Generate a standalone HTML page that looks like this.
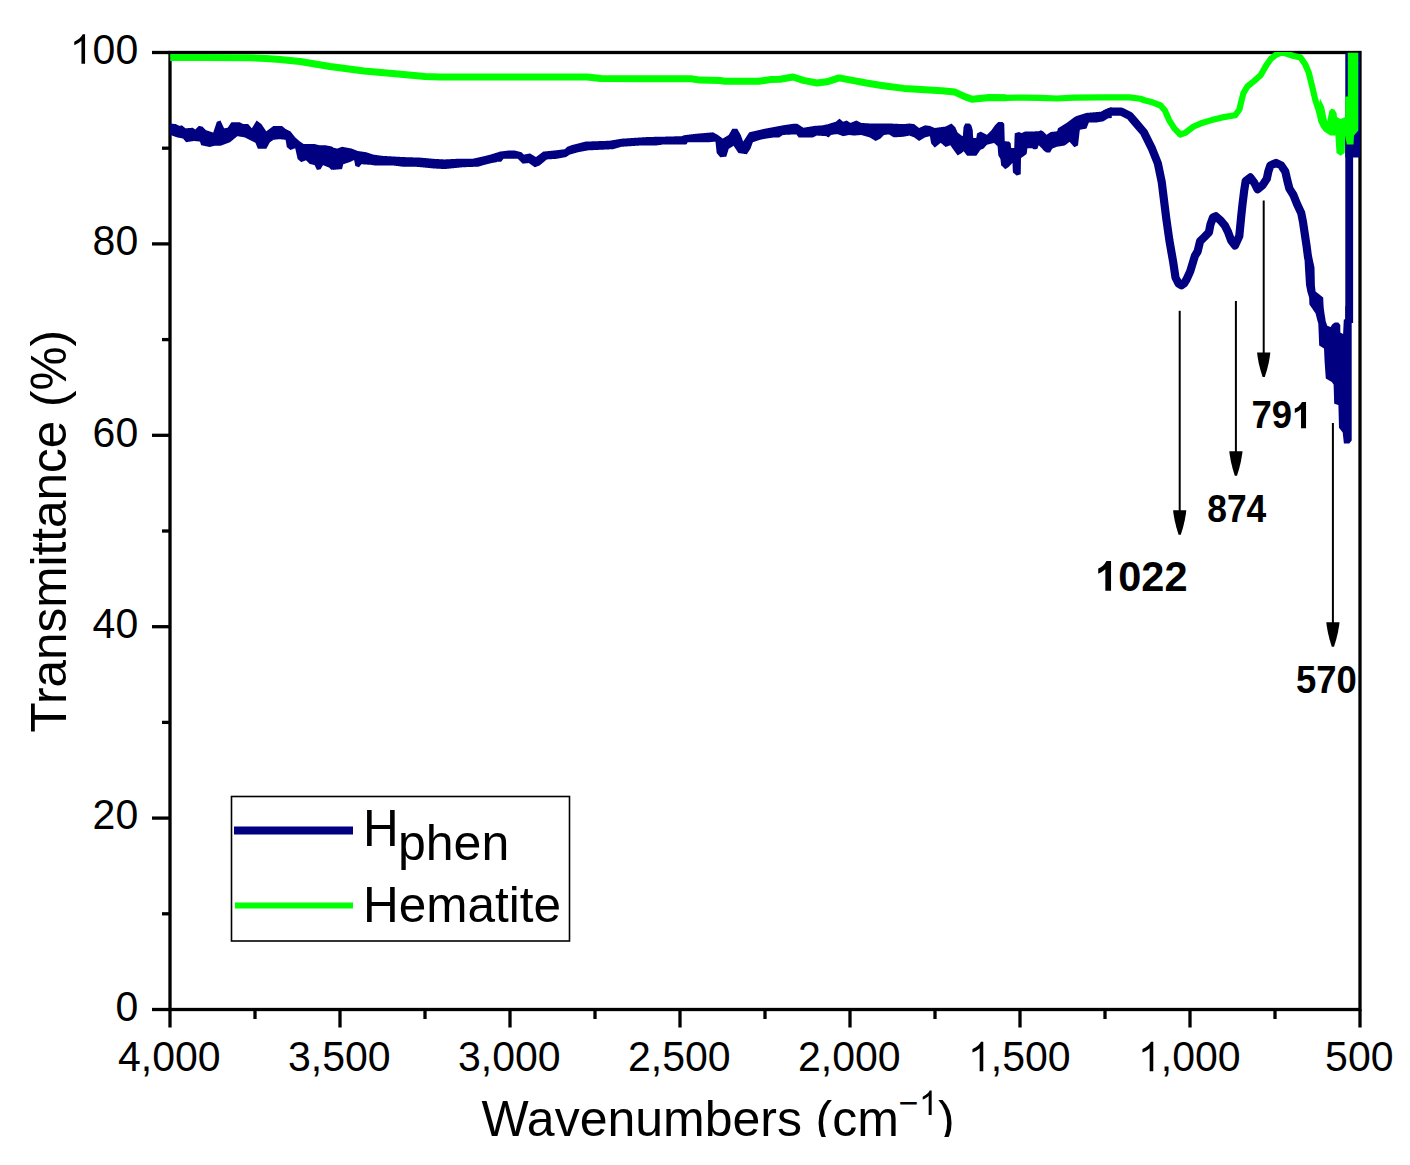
<!DOCTYPE html>
<html><head><meta charset="utf-8"><style>
html,body{margin:0;padding:0;background:#fff;}
body{width:1410px;height:1165px;overflow:hidden;}
svg{display:block;}
text{font-family:"Liberation Sans",sans-serif;fill:#000;}
</style></head><body>
<svg width="1410" height="1165" viewBox="0 0 1410 1165">
<rect x="0" y="0" width="1410" height="1165" fill="#fff"/>

<g stroke="#000" stroke-width="3.3" fill="none">
<rect x="170" y="52.5" width="1190" height="957.0"/>
<line x1="152" y1="1009.5" x2="170" y2="1009.5"/><line x1="162" y1="913.8" x2="170" y2="913.8"/><line x1="152" y1="818.1" x2="170" y2="818.1"/><line x1="162" y1="722.4" x2="170" y2="722.4"/><line x1="152" y1="626.7" x2="170" y2="626.7"/><line x1="162" y1="531.0" x2="170" y2="531.0"/><line x1="152" y1="435.3" x2="170" y2="435.3"/><line x1="162" y1="339.6" x2="170" y2="339.6"/><line x1="152" y1="243.9" x2="170" y2="243.9"/><line x1="162" y1="148.2" x2="170" y2="148.2"/><line x1="152" y1="52.5" x2="170" y2="52.5"/><line x1="1360.0" y1="1009.5" x2="1360.0" y2="1027.5"/><line x1="1275.0" y1="1009.5" x2="1275.0" y2="1019"/><line x1="1190.0" y1="1009.5" x2="1190.0" y2="1027.5"/><line x1="1105.0" y1="1009.5" x2="1105.0" y2="1019"/><line x1="1020.0" y1="1009.5" x2="1020.0" y2="1027.5"/><line x1="935.0" y1="1009.5" x2="935.0" y2="1019"/><line x1="850.0" y1="1009.5" x2="850.0" y2="1027.5"/><line x1="765.0" y1="1009.5" x2="765.0" y2="1019"/><line x1="680.0" y1="1009.5" x2="680.0" y2="1027.5"/><line x1="595.0" y1="1009.5" x2="595.0" y2="1019"/><line x1="510.0" y1="1009.5" x2="510.0" y2="1027.5"/><line x1="425.0" y1="1009.5" x2="425.0" y2="1019"/><line x1="340.0" y1="1009.5" x2="340.0" y2="1027.5"/><line x1="255.0" y1="1009.5" x2="255.0" y2="1019"/><line x1="170.0" y1="1009.5" x2="170.0" y2="1027.5"/>
</g>
<defs><clipPath id="pclip"><rect x="170" y="51.9" width="1190.2" height="957"/></clipPath></defs>
<g clip-path="url(#pclip)">
<polygon points="170.00,123.51 170.25,123.51 170.50,123.52 170.75,123.55 171.00,123.57 171.25,123.60 171.50,123.63 171.75,123.66 172.00,123.69 172.25,123.71 172.50,123.74 172.75,123.77 173.00,123.80 173.25,123.82 173.50,123.85 173.75,123.88 174.00,123.91 174.25,123.94 174.50,123.96 174.75,123.99 175.00,124.02 175.25,124.05 175.50,124.07 175.75,124.10 176.00,124.19 176.25,124.31 176.50,124.44 176.75,124.56 177.00,124.69 177.25,124.81 177.50,124.94 177.75,125.06 178.00,125.19 178.25,125.31 178.50,125.44 178.75,125.56 179.00,125.69 179.25,125.81 179.50,125.91 179.75,125.85 180.00,125.79 180.25,125.73 180.50,125.66 180.75,125.60 181.00,125.54 181.25,125.48 181.50,125.41 181.75,125.35 182.00,125.42 182.25,125.63 182.50,125.84 182.75,126.04 183.00,126.25 183.25,126.46 183.50,126.67 183.75,126.88 184.00,127.09 184.25,127.29 184.50,127.50 184.75,127.71 185.00,127.92 185.25,128.13 185.50,128.33 185.75,128.31 186.00,128.29 186.25,128.27 186.50,128.25 186.75,128.23 187.00,128.21 187.25,128.19 187.50,128.17 187.75,128.15 188.00,128.13 188.25,128.10 188.50,128.08 188.75,128.06 189.00,128.04 189.25,128.02 189.50,128.00 189.75,127.98 190.00,127.96 190.25,127.94 190.50,127.92 190.75,127.90 191.00,127.88 191.25,127.85 191.50,127.83 191.75,127.81 192.00,127.79 192.25,127.77 192.50,127.75 192.75,127.75 193.00,127.93 193.25,128.12 193.50,128.31 193.75,128.50 194.00,128.68 194.25,128.87 194.50,129.06 194.75,129.25 195.00,129.43 195.25,129.43 195.50,129.18 195.75,128.93 196.00,128.68 196.25,128.43 196.50,128.18 196.75,127.93 197.00,127.68 197.25,127.43 197.50,127.18 197.75,126.93 198.00,126.68 198.25,126.43 198.50,126.18 198.75,125.93 199.00,125.96 199.25,126.00 199.50,126.05 199.75,126.09 200.00,126.13 200.25,126.17 200.50,126.21 200.75,126.25 201.00,126.30 201.25,126.34 201.50,126.38 201.75,126.42 202.00,126.46 202.25,126.50 202.50,126.65 202.75,126.90 203.00,127.15 203.25,127.40 203.50,127.65 203.75,127.90 204.00,128.15 204.25,128.40 204.50,128.65 204.75,128.90 205.00,129.15 205.25,129.40 205.50,129.65 205.75,129.90 206.00,130.14 206.25,130.23 206.50,130.31 206.75,130.39 207.00,130.48 207.25,130.56 207.50,130.64 207.75,130.73 208.00,130.81 208.25,130.89 208.50,130.98 208.75,131.06 209.00,131.14 209.25,131.23 209.50,131.31 209.75,131.39 210.00,131.48 210.25,131.56 210.50,131.64 210.75,131.73 211.00,131.81 211.25,131.89 211.50,131.98 211.75,132.06 212.00,132.14 212.25,132.23 212.50,132.31 212.75,132.39 213.00,132.48 213.25,132.49 213.50,131.74 213.75,130.99 214.00,130.24 214.25,129.49 214.50,128.74 214.75,127.99 215.00,127.24 215.25,126.49 215.50,125.74 215.75,124.99 216.00,124.24 216.25,123.49 216.50,122.74 216.75,121.99 217.00,121.65 217.25,121.57 217.50,121.48 217.75,121.40 218.00,121.32 218.25,121.23 218.50,121.15 218.75,121.07 219.00,120.98 219.25,120.90 219.50,120.82 219.75,120.73 220.00,120.65 220.25,120.57 220.50,120.58 220.75,121.12 221.00,121.66 221.25,122.20 221.50,122.75 221.75,123.29 222.00,123.83 222.25,124.37 222.50,124.91 222.75,125.45 223.00,126.00 223.25,126.54 223.50,127.08 223.75,127.62 224.00,128.16 224.25,128.31 224.50,128.26 224.75,128.22 225.00,128.18 225.25,128.14 225.50,128.10 225.75,128.06 226.00,128.01 226.25,127.97 226.50,127.93 226.75,127.89 227.00,127.85 227.25,127.81 227.50,127.76 227.75,127.65 228.00,127.27 228.25,126.90 228.50,126.52 228.75,126.15 229.00,125.77 229.25,125.40 229.50,125.02 229.75,124.65 230.00,124.27 230.25,123.90 230.50,123.52 230.75,123.15 231.00,122.77 231.25,122.40 231.50,122.31 231.75,122.31 232.00,122.31 232.25,122.31 232.50,122.31 232.75,122.31 233.00,122.31 233.25,122.31 233.50,122.31 233.75,122.31 234.00,122.31 234.25,122.31 234.50,122.31 234.75,122.31 235.00,122.31 235.25,122.31 235.50,122.31 235.75,122.31 236.00,122.31 236.25,122.31 236.50,122.31 236.75,122.31 237.00,122.31 237.25,122.31 237.50,122.31 237.75,122.31 238.00,122.31 238.25,122.31 238.50,122.31 238.75,122.31 239.00,122.31 239.25,122.31 239.50,122.31 239.75,122.31 240.00,122.43 240.25,122.55 240.50,122.68 240.75,122.80 241.00,122.93 241.25,123.05 241.50,123.18 241.75,123.30 242.00,123.43 242.25,123.55 242.50,123.68 242.75,123.80 243.00,123.93 243.25,124.05 243.50,124.11 243.75,124.11 244.00,124.11 244.25,124.11 244.50,124.11 244.75,124.11 245.00,124.11 245.25,124.11 245.50,124.11 245.75,124.11 246.00,124.11 246.25,124.11 246.50,124.11 246.75,124.11 247.00,124.11 247.25,124.11 247.50,124.11 247.75,124.11 248.00,124.11 248.25,124.18 248.50,124.47 248.75,124.76 249.00,125.06 249.25,125.35 249.50,125.64 249.75,125.93 250.00,126.22 250.25,126.51 250.50,126.81 250.75,127.10 251.00,127.39 251.25,127.68 251.50,127.97 251.75,128.26 252.00,128.02 252.25,127.62 252.50,127.21 252.75,126.81 253.00,126.40 253.25,125.99 253.50,125.59 253.75,125.18 254.00,124.77 254.25,124.37 254.50,123.96 254.75,123.56 255.00,123.15 255.25,122.74 255.50,122.34 255.75,121.93 256.00,121.52 256.25,121.12 256.50,120.71 256.75,120.58 257.00,120.77 257.25,120.96 257.50,121.15 257.75,121.33 258.00,121.52 258.25,121.71 258.50,121.90 258.75,122.08 259.00,122.27 259.25,122.46 259.50,122.65 259.75,122.83 260.00,123.02 260.25,123.21 260.50,123.40 260.75,123.58 261.00,123.77 261.25,123.96 261.50,124.18 261.75,124.56 262.00,124.93 262.25,125.31 262.50,125.68 262.75,126.06 263.00,126.43 263.25,126.81 263.50,127.18 263.75,127.56 264.00,127.93 264.25,128.31 264.50,128.68 264.75,129.06 265.00,129.43 265.25,129.81 265.50,130.18 265.75,130.56 266.00,130.93 266.25,131.31 266.50,131.18 266.75,130.99 267.00,130.81 267.25,130.62 267.50,130.43 267.75,130.24 268.00,130.06 268.25,129.87 268.50,129.68 268.75,129.49 269.00,129.31 269.25,129.12 269.50,128.93 269.75,128.74 270.00,128.56 270.25,128.37 270.50,128.18 270.75,127.99 271.00,127.81 271.25,127.62 271.50,127.43 271.75,127.24 272.00,127.06 272.25,126.87 272.50,126.68 272.75,126.49 273.00,126.31 273.25,126.12 273.50,125.93 273.75,125.92 274.00,125.92 274.25,125.92 274.50,125.92 274.75,125.92 275.00,125.92 275.25,125.92 275.50,125.92 275.75,125.92 276.00,125.92 276.25,125.92 276.50,125.92 276.75,125.92 277.00,125.92 277.25,125.92 277.50,125.92 277.75,125.92 278.00,125.92 278.25,125.92 278.50,125.92 278.75,125.92 279.00,125.92 279.25,125.92 279.50,125.92 279.75,125.92 280.00,125.92 280.25,125.92 280.50,125.92 280.75,125.92 281.00,125.92 281.25,125.92 281.50,125.92 281.75,125.92 282.00,125.96 282.25,126.17 282.50,126.38 282.75,126.59 283.00,126.80 283.25,127.00 283.50,127.21 283.75,127.42 284.00,127.63 284.25,127.84 284.50,128.05 284.75,128.25 285.00,128.46 285.25,128.67 285.50,128.88 285.75,129.03 286.00,129.15 286.25,129.28 286.50,129.40 286.75,129.53 287.00,129.65 287.25,129.78 287.50,129.90 287.75,130.03 288.00,130.15 288.25,130.28 288.50,130.40 288.75,130.53 289.00,130.65 289.25,130.78 289.50,130.90 289.75,131.03 290.00,131.15 290.25,131.28 290.50,131.48 290.75,131.80 291.00,132.11 291.25,132.42 291.50,132.73 291.75,133.05 292.00,133.36 292.25,133.67 292.50,133.98 292.75,134.30 293.00,134.61 293.25,134.92 293.50,135.23 293.75,135.55 294.00,135.86 294.25,136.17 294.50,136.48 294.75,136.80 295.00,137.11 295.25,137.41 295.50,137.63 295.75,137.84 296.00,138.06 296.25,138.28 296.50,138.50 296.75,138.72 297.00,138.94 297.25,139.16 297.50,139.38 297.75,139.59 298.00,139.81 298.25,140.03 298.50,140.25 298.75,140.47 299.00,140.69 299.25,140.91 299.50,141.13 299.75,141.34 300.00,141.56 300.25,141.74 300.50,141.90 300.75,142.07 301.00,142.24 301.25,142.40 301.50,142.57 301.75,142.74 302.00,142.90 302.25,143.07 302.50,143.24 302.75,143.40 303.00,143.57 303.25,143.74 303.50,143.90 303.75,144.01 304.00,144.01 304.25,144.01 304.50,144.01 304.75,144.01 305.00,144.01 305.25,144.01 305.50,144.01 305.75,144.01 306.00,144.01 306.25,144.01 306.50,144.01 306.75,144.01 307.00,144.01 307.25,144.01 307.50,144.01 307.75,144.01 308.00,144.01 308.25,144.01 308.50,144.01 308.75,144.01 309.00,144.01 309.25,144.01 309.50,144.01 309.75,144.01 310.00,144.01 310.25,144.01 310.50,144.01 310.75,144.01 311.00,144.01 311.25,144.01 311.50,144.01 311.75,144.01 312.00,144.01 312.25,144.01 312.50,144.01 312.75,144.01 313.00,144.01 313.25,144.01 313.50,144.01 313.75,144.01 314.00,144.01 314.25,144.01 314.50,144.01 314.75,144.07 315.00,144.13 315.25,144.19 315.50,144.26 315.75,144.32 316.00,144.38 316.25,144.44 316.50,144.51 316.75,144.57 317.00,144.63 317.25,144.69 317.50,144.76 317.75,144.82 318.00,144.88 318.25,144.94 318.50,145.01 318.75,145.07 319.00,145.13 319.25,145.19 319.50,145.21 319.75,145.21 320.00,145.21 320.25,145.21 320.50,145.21 320.75,145.21 321.00,145.21 321.25,145.21 321.50,145.21 321.75,145.21 322.00,145.21 322.25,145.21 322.50,145.21 322.75,145.21 323.00,145.21 323.25,145.21 323.50,145.21 323.75,145.21 324.00,145.21 324.25,145.21 324.50,145.21 324.75,145.21 325.00,145.21 325.25,145.21 325.50,145.24 325.75,145.29 326.00,145.34 326.25,145.39 326.50,145.44 326.75,145.49 327.00,145.54 327.25,145.59 327.50,145.64 327.75,145.69 328.00,145.74 328.25,145.79 328.50,145.84 328.75,145.89 329.00,145.94 329.25,145.99 329.50,146.04 329.75,146.09 330.00,146.14 330.25,146.19 330.50,146.24 330.75,146.29 331.00,146.34 331.25,146.39 331.50,146.48 331.75,146.60 332.00,146.73 332.25,146.85 332.50,146.98 332.75,147.10 333.00,147.52 333.25,147.59 333.50,147.65 333.75,147.71 334.00,147.77 334.25,147.84 334.50,147.90 334.75,147.96 335.00,148.02 335.25,148.09 335.50,148.15 335.75,148.21 336.00,148.27 336.25,148.34 336.50,148.40 336.75,148.46 337.00,148.52 337.25,148.58 337.50,148.48 337.75,148.39 338.00,148.29 338.25,148.20 338.50,148.11 338.75,148.01 339.00,147.92 339.25,147.83 339.50,147.73 339.75,147.64 340.00,147.54 340.25,147.45 340.50,147.36 340.75,147.26 341.00,147.17 341.25,147.08 341.50,146.98 341.75,146.89 342.00,146.79 342.25,146.81 342.50,146.86 342.75,146.90 343.00,146.95 343.25,147.00 343.50,147.04 343.75,147.09 344.00,147.14 344.25,147.18 344.50,147.23 344.75,147.28 345.00,147.33 345.25,147.37 345.50,147.42 345.75,147.47 346.00,147.51 346.25,147.56 346.50,147.61 346.75,147.65 347.00,147.70 347.25,147.75 347.50,147.79 347.75,147.84 348.00,147.89 348.25,147.93 348.50,147.98 348.75,148.03 349.00,148.08 349.25,148.12 349.50,148.17 349.75,148.22 350.00,148.26 350.25,148.31 350.50,148.36 350.75,148.40 351.00,148.45 351.25,148.50 351.50,148.54 351.75,148.60 352.00,148.70 352.25,148.80 352.50,148.90 352.75,149.00 353.00,149.10 353.25,149.20 353.50,149.30 353.75,149.40 354.00,149.50 354.25,149.60 354.50,149.70 354.75,149.80 355.00,149.90 355.25,150.00 355.50,150.10 355.75,150.20 356.00,150.30 356.25,150.40 356.50,150.50 356.75,150.60 357.00,150.70 357.25,150.80 357.50,150.90 357.75,151.00 358.00,151.03 358.25,151.07 358.50,151.10 358.75,151.14 359.00,151.17 359.25,151.21 359.50,151.25 359.75,151.28 360.00,151.32 360.25,151.35 360.50,151.39 360.75,151.42 361.00,151.46 361.25,151.50 361.50,151.53 361.75,151.57 362.00,151.60 362.25,151.64 362.50,151.67 362.75,151.71 363.00,151.75 363.25,151.78 363.50,151.82 363.75,151.85 364.00,151.89 364.25,151.92 364.50,151.96 364.75,152.00 365.00,152.03 365.25,152.07 365.50,152.10 365.75,152.14 366.00,152.17 366.25,152.23 366.50,152.31 366.75,152.39 367.00,152.48 367.25,152.56 367.50,152.64 367.75,152.73 368.00,152.81 368.25,152.89 368.50,152.98 368.75,153.06 369.00,153.14 369.25,153.23 369.50,153.31 369.75,153.39 370.00,153.48 370.25,153.56 370.50,153.64 370.75,153.73 371.00,153.81 371.25,153.89 371.50,153.98 371.75,154.06 372.00,154.14 372.25,154.23 372.50,154.31 372.75,154.39 373.00,154.48 373.25,154.56 373.50,154.62 373.75,154.66 374.00,154.70 374.25,154.73 374.50,154.77 374.75,154.80 375.00,154.84 375.25,154.87 375.50,154.91 375.75,154.95 376.00,154.98 376.25,155.02 376.50,155.05 376.75,155.09 377.00,155.12 377.25,155.16 377.50,155.20 377.75,155.23 378.00,155.27 378.25,155.30 378.50,155.34 378.75,155.37 379.00,155.41 379.25,155.45 379.50,155.48 379.75,155.52 380.00,155.55 380.25,155.59 380.50,155.62 380.75,155.66 381.00,155.70 381.25,155.73 381.50,155.77 381.75,155.80 382.00,155.83 382.25,155.84 382.50,155.85 382.75,155.87 383.00,155.88 383.25,155.90 383.50,155.91 383.75,155.93 384.00,155.94 384.25,155.96 384.50,155.97 384.75,155.99 385.00,156.00 385.25,156.02 385.50,156.03 385.75,156.05 386.00,156.06 386.25,156.08 386.50,156.09 386.75,156.10 387.00,156.12 387.25,156.13 387.50,156.15 387.75,156.16 388.00,156.18 388.25,156.19 388.50,156.21 388.75,156.22 389.00,156.24 389.25,156.25 389.50,156.27 389.75,156.28 390.00,156.30 390.25,156.31 390.50,156.33 390.75,156.34 391.00,156.35 391.25,156.37 391.50,156.38 391.75,156.40 392.00,156.41 392.25,156.43 392.50,156.44 392.75,156.46 393.00,156.47 393.25,156.49 393.50,156.50 393.75,156.52 394.00,156.53 394.25,156.55 394.50,156.56 394.75,156.58 395.00,156.59 395.25,156.60 395.50,156.62 395.75,156.63 396.00,156.65 396.25,156.66 396.50,156.68 396.75,156.69 397.00,156.71 397.25,156.72 397.50,156.74 397.75,156.75 398.00,156.77 398.25,156.78 398.50,156.80 398.75,156.81 399.00,156.83 399.25,156.84 399.50,156.85 399.75,156.87 400.00,156.88 400.25,156.90 400.50,156.91 400.75,156.93 401.00,156.94 401.25,156.96 401.50,156.97 401.75,156.99 402.00,157.00 402.25,157.02 402.50,157.03 402.75,157.04 403.00,157.04 403.25,157.05 403.50,157.06 403.75,157.07 404.00,157.08 404.25,157.09 404.50,157.09 404.75,157.10 405.00,157.11 405.25,157.12 405.50,157.13 405.75,157.14 406.00,157.14 406.25,157.15 406.50,157.16 406.75,157.17 407.00,157.18 407.25,157.19 407.50,157.19 407.75,157.20 408.00,157.21 408.25,157.22 408.50,157.23 408.75,157.24 409.00,157.24 409.25,157.25 409.50,157.26 409.75,157.27 410.00,157.28 410.25,157.29 410.50,157.29 410.75,157.30 411.00,157.31 411.25,157.32 411.50,157.33 411.75,157.34 412.00,157.34 412.25,157.35 412.50,157.36 412.75,157.37 413.00,157.38 413.25,157.39 413.50,157.39 413.75,157.40 414.00,157.41 414.25,157.42 414.50,157.43 414.75,157.44 415.00,157.44 415.25,157.45 415.50,157.46 415.75,157.47 416.00,157.48 416.25,157.49 416.50,157.49 416.75,157.50 417.00,157.51 417.25,157.52 417.50,157.53 417.75,157.54 418.00,157.54 418.25,157.55 418.50,157.56 418.75,157.57 419.00,157.58 419.25,157.59 419.50,157.59 419.75,157.60 420.00,157.61 420.25,157.62 420.50,157.63 420.75,157.65 421.00,157.68 421.25,157.70 421.50,157.72 421.75,157.75 422.00,157.77 422.25,157.79 422.50,157.81 422.75,157.84 423.00,157.86 423.25,157.88 423.50,157.90 423.75,157.93 424.00,157.95 424.25,157.97 424.50,158.00 424.75,158.02 425.00,158.04 425.25,158.06 425.50,158.09 425.75,158.11 426.00,158.13 426.25,158.15 426.50,158.18 426.75,158.20 427.00,158.22 427.25,158.25 427.50,158.27 427.75,158.29 428.00,158.31 428.25,158.34 428.50,158.36 428.75,158.38 429.00,158.40 429.25,158.43 429.50,158.45 429.75,158.47 430.00,158.50 430.25,158.52 430.50,158.54 430.75,158.56 431.00,158.59 431.25,158.61 431.50,158.63 431.75,158.65 432.00,158.68 432.25,158.70 432.50,158.72 432.75,158.75 433.00,158.77 433.25,158.79 433.50,158.81 433.75,158.83 434.00,158.85 434.25,158.86 434.50,158.88 434.75,158.89 435.00,158.90 435.25,158.92 435.50,158.93 435.75,158.94 436.00,158.96 436.25,158.97 436.50,158.99 436.75,159.00 437.00,159.01 437.25,159.03 437.50,159.04 437.75,159.06 438.00,159.07 438.25,159.08 438.50,159.10 438.75,159.11 439.00,159.13 439.25,159.14 439.50,159.15 439.75,159.17 440.00,159.18 440.25,159.19 440.50,159.21 440.75,159.22 441.00,159.24 441.25,159.25 441.50,159.26 441.75,159.28 442.00,159.29 442.25,159.31 442.50,159.32 442.75,159.33 443.00,159.35 443.25,159.36 443.50,159.38 443.75,159.39 444.00,159.40 444.25,159.42 444.50,159.43 444.75,159.42 445.00,159.41 445.25,159.40 445.50,159.39 445.75,159.37 446.00,159.36 446.25,159.35 446.50,159.34 446.75,159.32 447.00,159.31 447.25,159.30 447.50,159.29 447.75,159.27 448.00,159.26 448.25,159.25 448.50,159.24 448.75,159.22 449.00,159.21 449.25,159.20 449.50,159.19 449.75,159.17 450.00,159.16 450.25,159.15 450.50,159.14 450.75,159.12 451.00,159.11 451.25,159.10 451.50,159.09 451.75,159.07 452.00,159.06 452.25,159.05 452.50,159.04 452.75,159.02 453.00,159.01 453.25,159.00 453.50,158.99 453.75,158.97 454.00,158.96 454.25,158.95 454.50,158.94 454.75,158.92 455.00,158.91 455.25,158.90 455.50,158.89 455.75,158.87 456.00,158.86 456.25,158.85 456.50,158.84 456.75,158.83 457.00,158.83 457.25,158.83 457.50,158.83 457.75,158.83 458.00,158.83 458.25,158.83 458.50,158.83 458.75,158.83 459.00,158.83 459.25,158.83 459.50,158.83 459.75,158.83 460.00,158.83 460.25,158.83 460.50,158.83 460.75,158.83 461.00,158.83 461.25,158.83 461.50,158.83 461.75,158.83 462.00,158.83 462.25,158.83 462.50,158.83 462.75,158.83 463.00,158.83 463.25,158.83 463.50,158.83 463.75,158.83 464.00,158.83 464.25,158.83 464.50,158.83 464.75,158.83 465.00,158.83 465.25,158.83 465.50,158.83 465.75,158.83 466.00,158.83 466.25,158.83 466.50,158.83 466.75,158.83 467.00,158.83 467.25,158.83 467.50,158.83 467.75,158.83 468.00,158.83 468.25,158.83 468.50,158.83 468.75,158.83 469.00,158.83 469.25,158.83 469.50,158.83 469.75,158.83 470.00,158.83 470.25,158.83 470.50,158.83 470.75,158.83 471.00,158.83 471.25,158.83 471.50,158.83 471.75,158.83 472.00,158.83 472.25,158.83 472.50,158.78 472.75,158.72 473.00,158.67 473.25,158.61 473.50,158.56 473.75,158.50 474.00,158.45 474.25,158.39 474.50,158.34 474.75,158.28 475.00,158.22 475.25,158.17 475.50,158.11 475.75,158.06 476.00,158.00 476.25,157.95 476.50,157.89 476.75,157.84 477.00,157.78 477.25,157.72 477.50,157.67 477.75,157.61 478.00,157.56 478.25,157.50 478.50,157.45 478.75,157.39 479.00,157.34 479.25,157.28 479.50,157.22 479.75,157.17 480.00,157.11 480.25,157.06 480.50,157.00 480.75,156.95 481.00,156.89 481.25,156.84 481.50,156.78 481.75,156.72 482.00,156.67 482.25,156.61 482.50,156.56 482.75,156.50 483.00,156.45 483.25,156.39 483.50,156.32 483.75,156.26 484.00,156.20 484.25,156.14 484.50,156.07 484.75,156.01 485.00,155.95 485.25,155.89 485.50,155.82 485.75,155.76 486.00,155.70 486.25,155.64 486.50,155.57 486.75,155.51 487.00,155.45 487.25,155.39 487.50,155.32 487.75,155.26 488.00,155.20 488.25,155.14 488.50,155.07 488.75,155.01 489.00,154.95 489.25,154.89 489.50,154.82 489.75,154.76 490.00,154.70 490.25,154.64 490.50,154.57 490.75,154.49 491.00,154.41 491.25,154.33 491.50,154.25 491.75,154.18 492.00,154.10 492.25,154.02 492.50,153.94 492.75,153.86 493.00,153.78 493.25,153.71 493.50,153.63 493.75,153.55 494.00,153.47 494.25,153.39 494.50,153.32 494.75,153.24 495.00,153.16 495.25,153.08 495.50,153.00 495.75,152.93 496.00,152.85 496.25,152.77 496.50,152.69 496.75,152.61 497.00,152.65 497.25,152.56 497.50,152.47 497.75,152.37 498.00,152.28 498.25,152.19 498.50,152.09 498.75,152.00 499.00,151.90 499.25,151.81 499.50,151.72 499.75,151.62 500.00,151.57 500.25,151.54 500.50,151.51 500.75,151.48 501.00,151.45 501.25,151.42 501.50,151.39 501.75,151.36 502.00,151.32 502.25,151.29 502.50,151.26 502.75,151.23 503.00,151.20 503.25,151.17 503.50,151.14 503.75,151.11 504.00,151.07 504.25,151.04 504.50,151.01 504.75,150.98 505.00,150.95 505.25,150.92 505.50,150.89 505.75,150.86 506.00,150.82 506.25,150.79 506.50,150.76 506.75,150.73 507.00,150.70 507.25,150.67 507.50,150.64 507.75,150.61 508.00,150.57 508.25,150.54 508.50,150.51 508.75,150.48 509.00,150.45 509.25,150.42 509.50,150.39 509.75,150.39 510.00,150.39 510.25,150.39 510.50,150.39 510.75,150.39 511.00,150.39 511.25,150.39 511.50,150.39 511.75,150.39 512.00,150.39 512.25,150.39 512.50,150.39 512.75,150.39 513.00,150.39 513.25,150.39 513.50,150.39 513.75,150.39 514.00,150.39 514.25,150.39 514.50,150.44 514.75,150.51 515.00,150.57 515.25,150.63 515.50,150.69 515.75,150.76 516.00,150.82 516.25,150.88 516.50,150.94 516.75,151.01 517.00,151.07 517.25,151.13 517.50,151.19 517.75,151.26 518.00,151.32 518.25,151.38 518.50,151.44 518.75,151.51 519.00,151.57 519.25,151.63 519.50,151.69 519.75,151.76 520.00,151.82 520.25,151.88 520.50,151.94 520.75,152.01 521.00,152.07 521.25,152.13 521.50,152.19 521.75,152.42 522.00,152.67 522.25,152.92 522.50,153.17 522.75,153.42 523.00,153.67 523.25,153.92 523.50,154.17 523.75,154.42 524.00,154.60 524.25,154.55 524.50,154.50 524.75,154.45 525.00,154.40 525.25,154.35 525.50,154.30 525.75,154.25 526.00,154.20 526.25,154.15 526.50,154.10 526.75,154.05 527.00,154.00 527.25,153.95 527.50,153.90 527.75,153.85 528.00,153.80 528.25,153.75 528.50,153.70 528.75,153.65 529.00,153.60 529.25,153.55 529.50,153.50 529.75,153.45 530.00,153.43 530.25,153.58 530.50,153.73 530.75,153.88 531.00,154.03 531.25,154.18 531.50,154.33 531.75,154.48 532.00,154.63 532.25,154.78 532.50,154.93 532.75,155.08 533.00,155.23 533.25,155.38 533.50,155.53 533.75,155.68 534.00,155.83 534.25,155.98 534.50,156.13 534.75,156.28 535.00,156.43 535.25,156.58 535.50,156.73 535.75,156.88 536.00,157.02 536.25,156.83 536.50,156.64 536.75,156.45 537.00,156.27 537.25,156.08 537.50,155.89 537.75,155.70 538.00,155.52 538.25,155.33 538.50,155.14 538.75,154.95 539.00,154.77 539.25,154.58 539.50,154.39 539.75,154.20 540.00,154.02 540.25,153.83 540.50,153.64 540.75,153.45 541.00,153.27 541.25,153.08 541.50,152.89 541.75,152.70 542.00,152.52 542.25,152.33 542.50,152.14 542.75,151.95 543.00,151.77 543.25,151.59 543.50,151.57 543.75,151.54 544.00,151.52 544.25,151.49 544.50,151.47 544.75,151.44 545.00,151.42 545.25,151.39 545.50,151.37 545.75,151.34 546.00,151.32 546.25,151.29 546.50,151.27 546.75,151.24 547.00,151.22 547.25,151.19 547.50,151.17 547.75,151.14 548.00,151.12 548.25,151.09 548.50,151.07 548.75,151.04 549.00,151.02 549.25,150.99 549.50,150.97 549.75,150.94 550.00,150.92 550.25,150.89 550.50,150.87 550.75,150.84 551.00,150.82 551.25,150.79 551.50,150.77 551.75,150.74 552.00,150.72 552.25,150.69 552.50,150.67 552.75,150.64 553.00,150.62 553.25,150.59 553.50,150.57 553.75,150.54 554.00,150.52 554.25,150.49 554.50,150.47 554.75,150.44 555.00,150.42 555.25,150.39 555.50,150.36 555.75,150.33 556.00,150.30 556.25,150.27 556.50,150.24 556.75,150.21 557.00,150.18 557.25,150.14 557.50,150.11 557.75,150.08 558.00,150.05 558.25,150.02 558.50,149.99 558.75,149.96 559.00,149.93 559.25,149.89 559.50,149.86 559.75,149.83 560.00,149.80 560.25,149.77 560.50,149.74 560.75,149.71 561.00,149.68 561.25,149.64 561.50,149.61 561.75,149.58 562.00,149.55 562.25,149.52 562.50,149.49 562.75,149.46 563.00,149.43 563.25,149.39 563.50,149.36 563.75,149.33 564.00,149.30 564.25,149.27 564.50,149.24 564.75,149.21 565.00,149.12 565.25,148.87 565.50,148.62 565.75,148.37 566.00,148.12 566.25,147.87 566.50,147.62 566.75,147.37 567.00,147.12 567.25,146.87 567.50,146.71 567.75,146.62 568.00,146.53 568.25,146.43 568.50,146.34 568.75,146.25 569.00,146.15 569.25,146.06 569.50,145.96 569.75,145.87 570.00,145.78 570.25,145.68 570.50,145.59 570.75,145.50 571.00,145.40 571.25,145.31 571.50,145.21 571.75,145.12 572.00,145.03 572.25,144.94 572.50,144.88 572.75,144.82 573.00,144.76 573.25,144.69 573.50,144.63 573.75,144.57 574.00,144.51 574.25,144.44 574.50,144.38 574.75,144.32 575.00,144.26 575.25,144.19 575.50,144.13 575.75,144.07 576.00,144.01 576.25,143.94 576.50,143.88 576.75,143.82 577.00,143.76 577.25,143.69 577.50,143.63 577.75,143.57 578.00,143.51 578.25,143.44 578.50,143.38 578.75,143.32 579.00,143.26 579.25,143.19 579.50,143.13 579.75,143.07 580.00,143.00 580.25,142.94 580.50,142.87 580.75,142.81 581.00,142.74 581.25,142.68 581.50,142.61 581.75,142.55 582.00,142.48 582.25,142.42 582.50,142.35 582.75,142.29 583.00,142.22 583.25,142.16 583.50,142.09 583.75,142.03 584.00,141.96 584.25,141.90 584.50,141.83 584.75,141.77 585.00,141.70 585.25,141.64 585.50,141.59 585.75,141.58 586.00,141.57 586.25,141.56 586.50,141.55 586.75,141.54 587.00,141.53 587.25,141.53 587.50,141.52 587.75,141.51 588.00,141.50 588.25,141.49 588.50,141.48 588.75,141.47 589.00,141.46 589.25,141.46 589.50,141.45 589.75,141.44 590.00,141.43 590.25,141.42 590.50,141.41 590.75,141.40 591.00,141.39 591.25,141.39 591.50,141.38 591.75,141.37 592.00,141.36 592.25,141.35 592.50,141.34 592.75,141.33 593.00,141.32 593.25,141.32 593.50,141.31 593.75,141.30 594.00,141.29 594.25,141.28 594.50,141.27 594.75,141.26 595.00,141.25 595.25,141.25 595.50,141.24 595.75,141.23 596.00,141.22 596.25,141.21 596.50,141.20 596.75,141.19 597.00,141.18 597.25,141.18 597.50,141.17 597.75,141.16 598.00,141.15 598.25,141.14 598.50,141.13 598.75,141.12 599.00,141.11 599.25,141.11 599.50,141.10 599.75,141.09 600.00,141.08 600.25,141.07 600.50,141.06 600.75,141.05 601.00,141.04 601.25,141.04 601.50,141.03 601.75,141.02 602.00,141.01 602.25,141.00 602.50,140.99 602.75,140.98 603.00,140.97 603.25,140.97 603.50,140.96 603.75,140.95 604.00,140.94 604.25,140.93 604.50,140.92 604.75,140.91 605.00,140.90 605.25,140.90 605.50,140.89 605.75,140.88 606.00,140.87 606.25,140.86 606.50,140.85 606.75,140.84 607.00,140.83 607.25,140.83 607.50,140.82 607.75,140.81 608.00,140.80 608.25,140.79 608.50,140.78 608.75,140.77 609.00,140.76 609.25,140.76 609.50,140.75 609.75,140.71 610.00,140.67 610.25,140.62 610.50,140.58 610.75,140.54 611.00,140.50 611.25,140.45 611.50,140.41 611.75,140.37 612.00,140.33 612.25,140.28 612.50,140.24 612.75,140.20 613.00,140.16 613.25,140.11 613.50,140.07 613.75,140.03 614.00,139.99 614.25,139.94 614.50,139.90 614.75,139.86 615.00,139.82 615.25,139.77 615.50,139.73 615.75,139.69 616.00,139.65 616.25,139.60 616.50,139.56 616.75,139.52 617.00,139.48 617.25,139.43 617.50,139.39 617.75,139.35 618.00,139.31 618.25,139.26 618.50,139.22 618.75,139.18 619.00,139.14 619.25,139.09 619.50,139.05 619.75,139.01 620.00,138.97 620.25,138.92 620.50,138.88 620.75,138.84 621.00,138.80 621.25,138.75 621.50,138.71 621.75,138.69 622.00,138.67 622.25,138.65 622.50,138.64 622.75,138.62 623.00,138.60 623.25,138.59 623.50,138.57 623.75,138.56 624.00,138.54 624.25,138.52 624.50,138.51 624.75,138.49 625.00,138.47 625.25,138.46 625.50,138.44 625.75,138.43 626.00,138.41 626.25,138.39 626.50,138.38 626.75,138.36 627.00,138.34 627.25,138.33 627.50,138.31 627.75,138.30 628.00,138.28 628.25,138.26 628.50,138.25 628.75,138.23 629.00,138.21 629.25,138.20 629.50,138.18 629.75,138.17 630.00,138.15 630.25,138.13 630.50,138.12 630.75,138.10 631.00,138.08 631.25,138.07 631.50,138.05 631.75,138.04 632.00,138.02 632.25,138.00 632.50,137.99 632.75,137.97 633.00,137.95 633.25,137.94 633.50,137.92 633.75,137.91 634.00,137.89 634.25,137.87 634.50,137.86 634.75,137.84 635.00,137.82 635.25,137.81 635.50,137.79 635.75,137.78 636.00,137.76 636.25,137.74 636.50,137.73 636.75,137.71 637.00,137.69 637.25,137.68 637.50,137.66 637.75,137.65 638.00,137.63 638.25,137.61 638.50,137.60 638.75,137.58 639.00,137.56 639.25,137.55 639.50,137.53 639.75,137.52 640.00,137.50 640.25,137.48 640.50,137.47 640.75,137.45 641.00,137.43 641.25,137.42 641.50,137.40 641.75,137.39 642.00,137.37 642.25,137.35 642.50,137.34 642.75,137.32 643.00,137.30 643.25,137.29 643.50,137.27 643.75,137.26 644.00,137.24 644.25,137.22 644.50,137.21 644.75,137.19 645.00,137.17 645.25,137.16 645.50,137.14 645.75,137.13 646.00,137.12 646.25,137.11 646.50,137.10 646.75,137.10 647.00,137.09 647.25,137.08 647.50,137.07 647.75,137.06 648.00,137.06 648.25,137.05 648.50,137.04 648.75,137.03 649.00,137.03 649.25,137.02 649.50,137.01 649.75,137.00 650.00,136.99 650.25,136.99 650.50,136.98 650.75,136.97 651.00,136.96 651.25,136.95 651.50,136.95 651.75,136.94 652.00,136.93 652.25,136.92 652.50,136.92 652.75,136.91 653.00,136.90 653.25,136.89 653.50,136.88 653.75,136.88 654.00,136.87 654.25,136.86 654.50,136.85 654.75,136.85 655.00,136.84 655.25,136.83 655.50,136.82 655.75,136.81 656.00,136.81 656.25,136.80 656.50,136.79 656.75,136.78 657.00,136.78 657.25,136.77 657.50,136.76 657.75,136.75 658.00,136.74 658.25,136.74 658.50,136.73 658.75,136.72 659.00,136.71 659.25,136.70 659.50,136.70 659.75,136.69 660.00,136.68 660.25,136.67 660.50,136.67 660.75,136.66 661.00,136.65 661.25,136.64 661.50,136.63 661.75,136.63 662.00,136.72 662.25,136.71 662.50,136.70 662.75,136.70 663.00,136.69 663.25,136.68 663.50,136.68 663.75,136.67 664.00,136.66 664.25,136.66 664.50,136.65 664.75,136.64 665.00,136.63 665.25,136.63 665.50,136.62 665.75,136.61 666.00,136.61 666.25,136.60 666.50,136.59 666.75,136.59 667.00,136.58 667.25,136.57 667.50,136.57 667.75,136.56 668.00,136.55 668.25,136.54 668.50,136.54 668.75,136.53 669.00,136.52 669.25,136.52 669.50,136.51 669.75,136.50 670.00,136.50 670.25,136.49 670.50,136.48 670.75,136.47 671.00,136.47 671.25,136.46 671.50,136.45 671.75,136.45 672.00,136.44 672.25,136.43 672.50,136.43 672.75,136.42 673.00,136.41 673.25,136.41 673.50,136.40 673.75,136.39 674.00,136.38 674.25,136.38 674.50,136.37 674.75,136.36 675.00,136.36 675.25,136.35 675.50,136.34 675.75,136.34 676.00,136.33 676.25,136.32 676.50,136.32 676.75,136.31 677.00,136.30 677.25,136.29 677.50,136.29 677.75,136.28 678.00,136.27 678.25,136.27 678.50,136.26 678.75,136.25 679.00,136.25 679.25,136.24 679.50,136.23 679.75,136.22 680.00,136.22 680.25,136.21 680.50,136.20 680.75,136.20 681.00,136.19 681.25,136.18 681.50,136.18 681.75,136.15 682.00,136.05 682.25,135.95 682.50,135.85 682.75,135.75 683.00,135.65 683.25,135.55 683.50,135.45 683.75,135.35 684.00,135.25 684.25,135.19 684.50,135.16 684.75,135.13 685.00,135.10 685.25,135.07 685.50,135.04 685.75,135.01 686.00,134.98 686.25,134.95 686.50,134.92 686.75,134.89 687.00,134.86 687.25,134.83 687.50,134.80 687.75,134.77 688.00,134.74 688.25,134.71 688.50,134.68 688.75,134.65 689.00,134.62 689.25,134.59 689.50,134.56 689.75,134.53 690.00,134.50 690.25,134.47 690.50,134.44 690.75,134.41 691.00,134.38 691.25,134.35 691.50,134.32 691.75,134.29 692.00,134.26 692.25,134.23 692.50,134.20 692.75,134.17 693.00,134.14 693.25,134.11 693.50,134.08 693.75,134.05 694.00,134.02 694.25,133.99 694.50,133.96 694.75,133.93 695.00,133.90 695.25,133.87 695.50,133.84 695.75,133.81 696.00,133.78 696.25,133.75 696.50,133.73 696.75,133.71 697.00,133.69 697.25,133.67 697.50,133.65 697.75,133.62 698.00,133.60 698.25,133.58 698.50,133.56 698.75,133.54 699.00,133.52 699.25,133.50 699.50,133.47 699.75,133.45 700.00,133.43 700.25,133.41 700.50,133.39 700.75,133.37 701.00,133.35 701.25,133.32 701.50,133.30 701.75,133.28 702.00,133.26 702.25,133.24 702.50,133.22 702.75,133.20 703.00,133.17 703.25,133.15 703.50,133.13 703.75,133.11 704.00,133.09 704.25,133.07 704.50,133.05 704.75,133.02 705.00,133.00 705.25,132.98 705.50,132.96 705.75,132.94 706.00,132.92 706.25,132.90 706.50,132.87 706.75,132.85 707.00,132.83 707.25,132.81 707.50,132.79 707.75,132.77 708.00,132.75 708.25,132.72 708.50,132.70 708.75,132.68 709.00,132.66 709.25,132.64 709.50,132.62 709.75,132.60 710.00,132.57 710.25,132.55 710.50,132.53 710.75,132.51 711.00,132.49 711.25,132.47 711.50,132.45 711.75,132.42 712.00,132.40 712.25,132.38 712.50,132.36 712.75,132.34 713.00,132.32 713.25,132.42 713.50,132.56 713.75,132.70 714.00,132.83 714.25,132.97 714.50,133.11 714.75,133.25 715.00,133.38 715.25,133.52 715.50,133.66 715.75,133.80 716.00,133.93 716.25,134.07 716.50,134.21 716.75,134.35 717.00,134.48 717.25,134.62 717.50,134.76 717.75,134.90 718.00,135.06 718.25,135.25 718.50,135.44 718.75,135.62 719.00,135.81 719.25,136.00 719.50,136.19 719.75,136.37 720.00,136.56 720.25,136.75 720.50,136.94 720.75,137.12 721.00,137.31 721.25,137.50 721.50,137.69 721.75,137.87 722.00,138.06 722.25,138.25 722.50,138.44 722.75,138.55 723.00,138.40 723.25,138.25 723.50,138.10 723.75,137.95 724.00,137.80 724.25,137.65 724.50,137.50 724.75,137.35 725.00,137.20 725.25,137.05 725.50,136.90 725.75,136.75 726.00,136.60 726.25,136.45 726.50,136.30 726.75,136.15 727.00,136.00 727.25,135.85 727.50,135.70 727.75,135.55 728.00,135.40 728.25,135.25 728.50,135.10 728.75,134.92 729.00,134.49 729.25,134.05 729.50,133.62 729.75,133.19 730.00,132.75 730.25,132.32 730.50,131.89 730.75,131.45 731.00,131.02 731.25,130.59 731.50,130.15 731.75,129.72 732.00,129.29 732.25,128.85 732.50,128.70 732.75,128.70 733.00,128.70 733.25,128.70 733.50,128.70 733.75,128.70 734.00,128.70 734.25,128.70 734.50,128.70 734.75,128.70 735.00,128.70 735.25,128.70 735.50,128.70 735.75,128.70 736.00,128.70 736.25,128.70 736.50,128.70 736.75,128.70 737.00,128.70 737.25,128.84 737.50,129.28 737.75,129.71 738.00,130.14 738.25,130.58 738.50,131.01 738.75,131.44 739.00,131.88 739.25,132.31 739.50,132.74 739.75,133.18 740.00,133.61 740.25,134.04 740.50,134.48 740.75,134.91 741.00,135.57 741.25,136.25 741.50,136.94 741.75,137.63 742.00,138.32 742.25,139.00 742.50,139.69 742.75,140.38 743.00,141.07 743.25,141.51 743.50,141.12 743.75,140.74 744.00,140.35 744.25,139.97 744.50,139.58 744.75,139.20 745.00,138.81 745.25,138.43 745.50,138.04 745.75,137.66 746.00,137.27 746.25,136.89 746.50,136.50 746.75,136.12 747.00,135.73 747.25,135.35 747.50,134.96 747.75,134.58 748.00,134.19 748.25,133.81 748.50,133.42 748.75,133.04 749.00,132.65 749.25,132.31 749.50,132.25 749.75,132.19 750.00,132.13 750.25,132.08 750.50,132.02 750.75,131.96 751.00,131.90 751.25,131.84 751.50,131.79 751.75,131.73 752.00,131.67 752.25,131.61 752.50,131.56 752.75,131.50 753.00,131.44 753.25,131.38 753.50,131.33 753.75,131.27 754.00,131.21 754.25,131.15 754.50,131.09 754.75,131.04 755.00,130.98 755.25,130.92 755.50,130.86 755.75,130.81 756.00,130.75 756.25,130.69 756.50,130.63 756.75,130.58 757.00,130.52 757.25,130.46 757.50,130.40 757.75,130.34 758.00,130.29 758.25,130.23 758.50,130.17 758.75,130.11 759.00,130.06 759.25,130.00 759.50,129.94 759.75,129.88 760.00,129.83 760.25,129.77 760.50,129.71 760.75,129.65 761.00,129.59 761.25,129.54 761.50,129.48 761.75,129.42 762.00,129.36 762.25,129.31 762.50,129.25 762.75,129.19 763.00,129.13 763.25,129.08 763.50,129.02 763.75,128.96 764.00,128.90 764.25,128.84 764.50,128.79 764.75,128.73 765.00,128.68 765.25,128.63 765.50,128.58 765.75,128.54 766.00,128.49 766.25,128.44 766.50,128.40 766.75,128.35 767.00,128.30 767.25,128.26 767.50,128.21 767.75,128.17 768.00,128.12 768.25,128.07 768.50,128.03 768.75,127.98 769.00,127.93 769.25,127.89 769.50,127.84 769.75,127.79 770.00,127.75 770.25,127.70 770.50,127.65 770.75,127.61 771.00,127.56 771.25,127.52 771.50,127.47 771.75,127.42 772.00,127.38 772.25,127.33 772.50,127.28 772.75,127.24 773.00,127.19 773.25,127.14 773.50,127.10 773.75,127.05 774.00,127.00 774.25,126.96 774.50,126.91 774.75,126.86 775.00,126.82 775.25,126.77 775.50,126.72 775.75,126.68 776.00,126.63 776.25,126.58 776.50,126.53 776.75,126.49 777.00,126.44 777.25,126.39 777.50,126.35 777.75,126.30 778.00,126.25 778.25,126.21 778.50,126.16 778.75,126.11 779.00,126.07 779.25,126.02 779.50,125.97 779.75,125.93 780.00,125.88 780.25,125.83 780.50,125.78 780.75,125.74 781.00,125.69 781.25,125.64 781.50,125.60 781.75,125.55 782.00,125.50 782.25,125.46 782.50,125.41 782.75,125.36 783.00,125.32 783.25,125.28 783.50,125.24 783.75,125.20 784.00,125.17 784.25,125.13 784.50,125.09 784.75,125.05 785.00,125.02 785.25,124.98 785.50,124.94 785.75,124.90 786.00,124.87 786.25,124.83 786.50,124.79 786.75,124.75 787.00,124.72 787.25,124.68 787.50,124.64 787.75,124.60 788.00,124.57 788.25,124.53 788.50,124.49 788.75,124.45 789.00,124.42 789.25,124.38 789.50,124.34 789.75,124.30 790.00,124.27 790.25,124.23 790.50,124.19 790.75,124.15 791.00,124.12 791.25,124.08 791.50,124.04 791.75,124.00 792.00,123.97 792.25,123.93 792.50,123.89 792.75,123.87 793.00,123.87 793.25,123.87 793.50,123.87 793.75,123.87 794.00,123.87 794.25,123.87 794.50,123.87 794.75,123.87 795.00,123.87 795.25,123.87 795.50,123.87 795.75,123.87 796.00,123.87 796.25,123.87 796.50,123.87 796.75,123.87 797.00,123.87 797.25,123.87 797.50,123.91 797.75,124.07 798.00,124.23 798.25,124.39 798.50,124.55 798.75,124.71 799.00,124.87 799.25,125.03 799.50,125.19 799.75,125.35 800.00,125.51 800.25,125.67 800.50,125.83 800.75,125.99 801.00,126.15 801.25,126.31 801.50,126.47 801.75,126.63 802.00,126.79 802.25,126.95 802.50,127.11 802.75,127.27 803.00,127.43 803.25,127.59 803.50,127.73 803.75,127.69 804.00,127.64 804.25,127.60 804.50,127.56 804.75,127.52 805.00,127.48 805.25,127.44 805.50,127.39 805.75,127.35 806.00,127.31 806.25,127.27 806.50,127.23 806.75,127.19 807.00,127.14 807.25,127.10 807.50,127.06 807.75,127.02 808.00,126.98 808.25,126.94 808.50,126.89 808.75,126.85 809.00,126.81 809.25,126.77 809.50,126.73 809.75,126.69 810.00,126.64 810.25,126.60 810.50,126.56 810.75,126.52 811.00,126.48 811.25,126.44 811.50,126.39 811.75,126.35 812.00,126.31 812.25,126.27 812.50,126.23 812.75,126.19 813.00,126.14 813.25,126.10 813.50,126.06 813.75,126.02 814.00,125.98 814.25,125.94 814.50,125.91 814.75,125.89 815.00,125.87 815.25,125.86 815.50,125.84 815.75,125.82 816.00,125.80 816.25,125.79 816.50,125.77 816.75,125.75 817.00,125.73 817.25,125.71 817.50,125.70 817.75,125.68 818.00,125.66 818.25,125.64 818.50,125.62 818.75,125.61 819.00,125.59 819.25,125.57 819.50,125.55 819.75,125.54 820.00,125.52 820.25,125.50 820.50,125.48 820.75,125.46 821.00,125.45 821.25,125.43 821.50,125.41 821.75,125.39 822.00,125.37 822.25,125.36 822.50,125.34 822.75,125.32 823.00,125.26 823.25,125.20 823.50,125.14 823.75,125.07 824.00,125.01 824.25,124.95 824.50,124.89 824.75,124.82 825.00,124.76 825.25,124.70 825.50,124.64 825.75,124.57 826.00,124.51 826.25,124.45 826.50,124.39 826.75,124.32 827.00,124.57 827.25,124.48 827.50,124.38 827.75,124.29 828.00,124.19 828.25,124.10 828.50,124.01 828.75,123.91 829.00,123.82 829.25,123.73 829.50,123.63 829.75,123.54 830.00,123.46 830.25,123.38 830.50,123.31 830.75,123.23 831.00,123.16 831.25,123.08 831.50,123.01 831.75,122.93 832.00,122.86 832.25,122.78 832.50,122.71 832.75,122.63 833.00,122.56 833.25,122.48 833.50,122.41 833.75,122.33 834.00,122.26 834.25,122.18 834.50,122.11 834.75,122.03 835.00,121.96 835.25,121.88 835.50,121.81 835.75,121.73 836.00,121.58 836.25,121.37 836.50,121.16 836.75,120.95 837.00,120.75 837.25,120.54 837.50,120.33 837.75,120.12 838.00,119.91 838.25,119.70 838.50,119.50 838.75,119.29 839.00,119.08 839.25,118.87 839.50,118.71 839.75,118.92 840.00,119.13 840.25,119.34 840.50,119.55 840.75,119.76 841.00,119.96 841.25,120.17 841.50,120.38 841.75,120.59 842.00,120.80 842.25,121.01 842.50,121.21 842.75,121.42 843.00,121.63 843.25,121.65 843.50,121.56 843.75,121.48 844.00,121.40 844.25,121.31 844.50,121.23 844.75,121.15 845.00,121.06 845.25,120.98 845.50,120.90 845.75,120.81 846.00,120.73 846.25,120.65 846.50,120.56 846.75,120.53 847.00,120.70 847.25,120.86 847.50,121.03 847.75,121.20 848.00,121.36 848.25,121.53 848.50,121.70 848.75,121.86 849.00,122.03 849.25,122.20 849.50,122.36 849.75,122.53 850.00,122.70 850.25,122.86 850.50,122.84 850.75,122.74 851.00,122.64 851.25,122.54 851.50,122.44 851.75,122.34 852.00,122.24 852.25,122.14 852.50,122.04 852.75,121.94 853.00,121.84 853.25,121.74 853.50,121.64 853.75,121.54 854.00,121.44 854.25,121.34 854.50,121.24 854.75,121.14 855.00,121.04 855.25,120.94 855.50,120.84 855.75,120.74 856.00,120.64 856.25,120.54 856.50,120.57 856.75,120.70 857.00,120.82 857.25,120.95 857.50,121.07 857.75,121.20 858.00,121.32 858.25,121.45 858.50,121.57 858.75,121.70 859.00,121.82 859.25,121.95 859.50,122.07 859.75,122.20 860.00,122.32 860.25,122.45 860.50,122.57 860.75,122.70 861.00,122.82 861.25,122.91 861.50,122.93 861.75,122.94 862.00,122.96 862.25,122.98 862.50,122.99 862.75,123.01 863.00,123.02 863.25,123.04 863.50,123.05 863.75,123.07 864.00,123.08 864.25,123.10 864.50,123.12 864.75,123.13 865.00,123.15 865.25,123.16 865.50,123.18 865.75,123.19 866.00,123.21 866.25,123.23 866.50,123.24 866.75,123.26 867.00,123.27 867.25,123.29 867.50,123.30 867.75,123.32 868.00,123.33 868.25,123.35 868.50,123.37 868.75,123.38 869.00,123.40 869.25,123.41 869.50,123.43 869.75,123.44 870.00,123.46 870.25,123.48 870.50,123.49 870.75,123.51 871.00,123.51 871.25,123.51 871.50,123.51 871.75,123.51 872.00,123.51 872.25,123.51 872.50,123.51 872.75,123.51 873.00,123.51 873.25,123.51 873.50,123.51 873.75,123.51 874.00,123.51 874.25,123.51 874.50,123.51 874.75,123.51 875.00,123.51 875.25,123.51 875.50,123.51 875.75,123.51 876.00,123.51 876.25,123.51 876.50,123.51 876.75,123.51 877.00,123.51 877.25,123.51 877.50,123.51 877.75,123.51 878.00,123.51 878.25,123.51 878.50,123.51 878.75,123.51 879.00,123.51 879.25,123.51 879.50,123.51 879.75,123.51 880.00,123.51 880.25,123.51 880.50,123.51 880.75,123.51 881.00,123.51 881.25,123.51 881.50,123.51 881.75,123.51 882.00,123.51 882.25,123.51 882.50,123.51 882.75,123.51 883.00,123.51 883.25,123.51 883.50,123.51 883.75,123.51 884.00,123.51 884.25,123.51 884.50,123.51 884.75,123.51 885.00,123.51 885.25,123.51 885.50,123.51 885.75,123.51 886.00,123.51 886.25,123.51 886.50,123.51 886.75,123.51 887.00,123.51 887.25,123.51 887.50,123.51 887.75,123.51 888.00,123.51 888.25,123.51 888.50,123.51 888.75,123.51 889.00,123.51 889.25,123.51 889.50,123.51 889.75,123.51 890.00,123.51 890.25,123.52 890.50,123.53 890.75,123.54 891.00,123.55 891.25,123.56 891.50,123.57 891.75,123.59 892.00,123.60 892.25,123.61 892.50,123.62 892.75,123.63 893.00,123.64 893.25,123.65 893.50,123.67 893.75,123.68 894.00,123.69 894.25,123.70 894.50,123.71 894.75,123.72 895.00,123.73 895.25,123.74 895.50,123.76 895.75,123.77 896.00,123.78 896.25,123.79 896.50,123.80 896.75,123.81 897.00,123.82 897.25,123.84 897.50,123.85 897.75,123.86 898.00,123.87 898.25,123.88 898.50,123.89 898.75,123.90 899.00,123.92 899.25,123.93 899.50,123.94 899.75,123.95 900.00,123.96 900.25,123.97 900.50,123.98 900.75,123.99 901.00,124.01 901.25,124.02 901.50,124.03 901.75,124.04 902.00,124.05 902.25,124.06 902.50,124.07 902.75,124.09 903.00,124.10 903.25,124.11 903.50,124.10 903.75,124.08 904.00,124.05 904.25,124.03 904.50,124.00 904.75,123.98 905.00,123.95 905.25,123.93 905.50,123.90 905.75,123.88 906.00,123.85 906.25,123.83 906.50,123.80 906.75,123.78 907.00,123.75 907.25,123.73 907.50,123.70 907.75,123.68 908.00,123.65 908.25,123.63 908.50,123.60 908.75,123.58 909.00,123.55 909.25,123.53 909.50,123.52 909.75,123.55 910.00,123.59 910.25,123.62 910.50,123.65 910.75,123.68 911.00,123.71 911.25,123.74 911.50,123.77 911.75,123.80 912.00,123.84 912.25,123.87 912.50,123.90 912.75,123.93 913.00,123.96 913.25,123.99 913.50,124.02 913.75,124.05 914.00,124.09 914.25,124.14 914.50,124.34 914.75,124.54 915.00,124.74 915.25,124.94 915.50,125.14 915.75,125.34 916.00,125.54 916.25,125.74 916.50,125.94 916.75,126.14 917.00,126.34 917.25,126.54 917.50,126.74 917.75,126.94 918.00,127.14 918.25,127.34 918.50,127.54 918.75,127.74 919.00,127.94 919.25,127.88 919.50,127.77 919.75,127.66 920.00,127.55 920.25,127.44 920.50,127.33 920.75,127.22 921.00,127.11 921.25,127.00 921.50,126.89 921.75,126.78 922.00,126.67 922.25,126.56 922.50,126.45 922.75,126.34 923.00,126.23 923.25,126.12 923.50,126.01 923.75,125.90 924.00,125.79 924.25,125.68 924.50,125.57 924.75,125.46 925.00,125.35 925.25,125.34 925.50,125.37 925.75,125.40 926.00,125.44 926.25,125.47 926.50,125.50 926.75,125.53 927.00,125.56 927.25,125.59 927.50,125.62 927.75,125.65 928.00,125.69 928.25,125.72 928.50,125.75 928.75,125.78 929.00,125.81 929.25,125.84 929.50,125.87 929.75,125.90 930.00,125.97 930.25,126.07 930.50,126.18 930.75,126.29 931.00,126.39 931.25,126.50 931.50,126.60 931.75,126.71 932.00,126.82 932.25,126.92 932.50,127.03 932.75,127.14 933.00,127.24 933.25,127.35 933.50,127.45 933.75,127.56 934.00,127.67 934.25,127.77 934.50,127.88 934.75,127.97 935.00,127.93 935.25,127.90 935.50,127.87 935.75,127.83 936.00,127.80 936.25,127.77 936.50,127.73 936.75,127.70 937.00,127.67 937.25,127.63 937.50,127.60 937.75,127.57 938.00,127.53 938.25,127.50 938.50,127.47 938.75,127.43 939.00,127.40 939.25,127.37 939.50,127.33 939.75,127.30 940.00,127.27 940.25,127.23 940.50,127.20 940.75,127.17 941.00,127.13 941.25,127.10 941.50,127.07 941.75,127.03 942.00,127.00 942.25,126.97 942.50,126.93 942.75,126.90 943.00,126.87 943.25,126.83 943.50,126.80 943.75,126.77 944.00,126.73 944.25,126.70 944.50,126.67 944.75,126.63 945.00,126.60 945.25,126.57 945.50,126.53 945.75,126.43 946.00,126.31 946.25,126.18 946.50,126.06 946.75,125.93 947.00,125.81 947.25,125.68 947.50,125.56 947.75,125.43 948.00,125.31 948.25,125.18 948.50,125.06 948.75,124.93 949.00,124.81 949.25,124.68 949.50,124.56 949.75,124.43 950.00,124.31 950.25,124.18 950.50,124.06 950.75,123.93 951.00,123.81 951.25,123.68 951.50,123.56 951.75,123.66 952.00,123.91 952.25,124.16 952.50,124.41 952.75,124.66 953.00,124.91 953.25,125.16 953.50,125.41 953.75,125.66 954.00,125.91 954.25,126.16 954.50,126.41 954.75,126.66 955.00,126.91 955.25,127.21 955.50,127.77 955.75,128.33 956.00,128.90 956.25,129.46 956.50,130.02 956.75,130.58 957.00,131.15 957.25,131.71 957.50,132.27 957.75,132.65 958.00,132.83 958.25,133.02 958.50,133.21 958.75,133.40 959.00,133.58 959.25,133.77 959.50,133.96 959.75,134.15 960.00,134.33 960.25,134.52 960.50,134.71 960.75,134.90 961.00,135.08 961.25,135.27 961.50,135.46 961.75,135.65 962.00,135.93 962.25,136.02 962.50,136.11 962.75,136.21 963.00,134.12 963.25,130.87 963.50,127.62 963.75,126.61 964.00,126.11 964.25,125.61 964.50,125.11 964.75,124.61 965.00,124.11 965.25,123.61 965.50,123.48 965.75,123.48 966.00,123.48 966.25,123.48 966.50,123.48 966.75,123.48 967.00,123.48 967.25,123.48 967.50,123.48 967.75,123.48 968.00,123.48 968.25,123.48 968.50,123.48 968.75,123.48 969.00,123.48 969.25,123.48 969.50,123.48 969.75,123.65 970.00,123.90 970.25,124.15 970.50,124.40 970.75,124.65 971.00,124.90 971.25,125.15 971.50,125.78 971.75,126.66 972.00,127.53 972.25,128.41 972.50,129.28 972.75,130.16 973.00,135.36 973.25,138.01 973.50,138.01 973.75,138.01 974.00,138.01 974.25,138.01 974.50,138.01 974.75,138.01 975.00,138.01 975.25,138.01 975.50,138.01 975.75,138.01 976.00,138.01 976.25,138.01 976.50,136.79 976.75,135.17 977.00,133.54 977.25,133.29 977.50,133.16 977.75,133.04 978.00,132.91 978.25,132.79 978.50,132.66 978.75,132.54 979.00,132.41 979.25,132.29 979.50,132.16 979.75,132.04 980.00,131.91 980.25,131.79 980.50,131.66 980.75,131.72 981.00,131.85 981.25,131.97 981.50,132.10 981.75,132.22 982.00,132.35 982.25,132.47 982.50,132.60 982.75,132.72 983.00,132.85 983.25,132.97 983.50,133.10 983.75,133.22 984.00,133.35 984.25,133.47 984.50,133.60 984.75,133.72 985.00,133.85 985.25,133.97 985.50,134.10 985.75,134.22 986.00,134.35 986.25,134.47 986.50,134.60 986.75,134.72 987.00,134.77 987.25,134.52 987.50,134.27 987.75,134.02 988.00,133.77 988.25,133.52 988.50,133.27 988.75,133.02 989.00,132.77 989.25,132.52 989.50,132.27 989.75,132.02 990.00,131.77 990.25,131.52 990.50,131.27 990.75,131.02 991.00,130.77 991.25,130.51 991.50,130.16 991.75,129.81 992.00,129.46 992.25,129.11 992.50,128.76 992.75,128.41 993.00,128.06 993.25,127.71 993.50,127.36 993.75,127.01 994.00,126.66 994.25,126.31 994.50,125.96 994.75,125.61 995.00,125.35 995.25,125.10 995.50,124.85 995.75,124.60 996.00,124.35 996.25,124.10 996.50,123.85 996.75,123.60 997.00,123.35 997.25,123.10 997.50,122.85 997.75,122.60 998.00,122.35 998.25,122.10 998.50,122.06 998.75,122.06 999.00,122.06 999.25,122.06 999.50,122.06 999.75,122.06 1000.00,122.06 1000.25,122.06 1000.50,122.06 1000.75,122.06 1001.00,122.06 1001.25,122.06 1001.50,122.06 1001.75,122.06 1002.00,122.06 1002.25,122.06 1002.50,122.06 1002.75,122.25 1003.00,122.50 1003.25,122.75 1003.50,123.00 1003.75,123.25 1004.00,123.50 1004.25,123.75 1004.50,132.34 1004.75,141.21 1005.00,141.23 1005.25,141.25 1005.50,141.27 1005.75,141.29 1006.00,141.32 1006.25,141.34 1006.50,141.36 1006.75,141.38 1007.00,141.40 1007.25,141.42 1007.50,141.44 1007.75,141.46 1008.00,141.48 1008.25,141.50 1008.50,141.52 1008.75,141.54 1009.00,141.62 1009.25,141.87 1009.50,142.12 1009.75,142.37 1010.00,142.62 1010.25,142.87 1010.50,143.12 1010.75,143.86 1011.00,147.11 1011.25,147.94 1011.50,147.94 1011.75,147.94 1012.00,147.94 1012.25,147.94 1012.50,147.94 1012.75,147.94 1013.00,147.94 1013.25,147.94 1013.50,147.94 1013.75,147.94 1014.00,147.94 1014.25,147.94 1014.50,137.91 1014.75,133.36 1015.00,133.27 1015.25,133.19 1015.50,133.11 1015.75,133.02 1016.00,132.94 1016.25,132.86 1016.50,132.77 1016.75,132.69 1017.00,132.61 1017.25,132.52 1017.50,132.44 1017.75,132.36 1018.00,132.27 1018.25,132.19 1018.50,132.11 1018.75,132.02 1019.00,132.04 1019.25,132.13 1019.50,132.22 1019.75,132.32 1020.00,132.41 1020.25,132.51 1020.50,132.60 1020.75,132.69 1021.00,132.79 1021.25,132.88 1021.50,132.97 1021.75,133.03 1022.00,132.90 1022.25,132.78 1022.50,132.65 1022.75,132.53 1023.00,132.40 1023.25,132.28 1023.50,132.15 1023.75,132.03 1024.00,131.90 1024.25,131.78 1024.50,131.65 1024.75,131.63 1025.00,131.62 1025.25,131.61 1025.50,131.61 1025.75,131.60 1026.00,131.59 1026.25,131.59 1026.50,131.58 1026.75,131.58 1027.00,131.57 1027.25,131.56 1027.50,131.56 1027.75,131.55 1028.00,131.54 1028.25,131.54 1028.50,131.53 1028.75,131.53 1029.00,131.52 1029.25,131.51 1029.50,131.51 1029.75,131.50 1030.00,131.49 1030.25,131.49 1030.50,131.48 1030.75,131.48 1031.00,131.47 1031.25,131.46 1031.50,131.46 1031.75,131.45 1032.00,131.44 1032.25,131.44 1032.50,131.43 1032.75,131.43 1033.00,131.42 1033.25,131.41 1033.50,131.41 1033.75,131.40 1034.00,131.39 1034.25,131.39 1034.50,131.38 1034.75,131.38 1035.00,131.37 1035.25,131.36 1035.50,131.36 1035.75,131.35 1036.00,131.34 1036.25,131.34 1036.50,131.33 1036.75,131.33 1037.00,131.32 1037.25,131.31 1037.50,131.31 1037.75,131.30 1038.00,131.29 1038.25,131.29 1038.50,131.28 1038.75,131.26 1039.00,131.14 1039.25,131.01 1039.50,130.89 1039.75,130.76 1040.00,130.64 1040.25,130.51 1040.50,130.39 1040.75,130.26 1041.00,130.29 1041.25,130.41 1041.50,130.54 1041.75,130.66 1042.00,130.79 1042.25,130.91 1042.50,131.04 1042.75,131.16 1043.00,131.30 1043.25,131.55 1043.50,131.80 1043.75,132.05 1044.00,132.30 1044.25,132.55 1044.50,132.80 1044.75,133.05 1045.00,133.30 1045.25,133.55 1045.50,133.80 1045.75,134.05 1046.00,134.30 1046.25,134.55 1046.50,134.80 1046.75,134.67 1047.00,134.51 1047.25,134.34 1047.50,134.17 1047.75,134.01 1048.00,133.84 1048.25,133.67 1048.50,133.51 1048.75,133.34 1049.00,133.17 1049.25,133.01 1049.50,132.84 1049.75,132.67 1050.00,132.51 1050.25,132.34 1050.50,132.17 1050.75,132.01 1051.00,131.96 1051.25,131.93 1051.50,131.91 1051.75,131.88 1052.00,131.85 1052.25,131.82 1052.50,131.79 1052.75,131.77 1053.00,131.74 1053.25,131.71 1053.50,131.68 1053.75,131.66 1054.00,131.63 1054.25,131.60 1054.50,131.57 1054.75,131.54 1055.00,131.52 1055.25,131.49 1055.50,131.46 1055.75,131.43 1056.00,131.41 1056.25,131.38 1056.50,131.35 1056.75,131.32 1057.00,131.29 1057.25,130.93 1057.50,129.93 1057.75,128.93 1058.00,128.28 1058.25,128.13 1058.50,127.97 1058.75,127.81 1059.00,127.66 1059.25,127.50 1059.50,127.34 1059.75,127.19 1060.00,127.03 1060.25,126.88 1060.50,126.72 1060.75,126.56 1061.00,126.41 1061.25,126.25 1061.50,126.09 1061.75,125.94 1062.00,125.78 1062.25,125.63 1062.50,125.47 1062.75,125.31 1063.00,125.16 1063.25,125.00 1063.50,124.84 1063.75,124.69 1064.00,124.53 1064.25,124.38 1064.50,124.22 1064.75,124.06 1065.00,123.91 1065.25,123.75 1065.50,123.59 1065.75,123.44 1066.00,123.28 1066.25,123.13 1066.50,122.97 1066.75,122.81 1067.00,122.66 1067.25,122.49 1067.50,122.30 1067.75,122.11 1068.00,121.93 1068.25,121.74 1068.50,121.55 1068.75,121.36 1069.00,121.18 1069.25,120.99 1069.50,120.80 1069.75,120.61 1070.00,120.43 1070.25,120.24 1070.50,120.05 1070.75,119.86 1071.00,119.68 1071.25,119.49 1071.50,119.30 1071.75,119.11 1072.00,118.93 1072.25,118.74 1072.50,118.55 1072.75,118.36 1073.00,118.18 1073.25,117.99 1073.50,117.80 1073.75,117.61 1074.00,117.43 1074.25,117.24 1074.50,117.08 1074.75,116.95 1075.00,116.83 1075.25,116.70 1075.50,116.58 1075.75,116.45 1076.00,116.33 1076.25,116.20 1076.50,116.08 1076.75,115.95 1077.00,115.86 1077.25,115.78 1077.50,115.71 1077.75,115.63 1078.00,115.55 1078.25,115.47 1078.50,115.39 1078.75,115.32 1079.00,115.24 1079.25,115.16 1079.50,115.08 1079.75,115.00 1080.00,114.93 1080.25,114.85 1080.50,114.77 1080.75,114.69 1081.00,114.61 1081.25,114.53 1081.50,114.46 1081.75,114.38 1082.00,114.30 1082.25,114.22 1082.50,114.14 1082.75,114.07 1083.00,113.99 1083.25,113.91 1083.50,113.83 1083.75,113.75 1084.00,113.68 1084.25,113.60 1084.50,113.52 1084.75,113.44 1085.00,113.36 1085.25,113.28 1085.50,113.21 1085.75,113.13 1086.00,113.05 1086.25,112.97 1086.50,112.90 1086.75,112.88 1087.00,112.86 1087.25,112.84 1087.50,112.82 1087.75,112.80 1088.00,112.78 1088.25,112.76 1088.50,112.74 1088.75,112.72 1089.00,112.70 1089.25,112.68 1089.50,112.65 1089.75,112.63 1090.00,112.61 1090.25,112.59 1090.50,112.57 1090.75,112.55 1091.00,112.53 1091.25,112.51 1091.50,112.49 1091.75,112.47 1092.00,112.45 1092.25,112.43 1092.50,112.40 1092.75,112.38 1093.00,112.36 1093.25,112.34 1093.50,112.32 1093.75,112.30 1094.00,112.28 1094.25,112.26 1094.50,112.24 1094.75,112.22 1095.00,112.20 1095.25,112.18 1095.50,112.15 1095.75,112.13 1096.00,112.11 1096.25,112.09 1096.50,112.07 1096.75,112.05 1097.00,112.03 1097.25,112.01 1097.50,111.99 1097.75,111.97 1098.00,111.95 1098.25,111.93 1098.50,111.90 1098.75,111.88 1099.00,111.86 1099.25,111.84 1099.50,111.82 1099.75,111.80 1100.00,111.78 1100.25,111.76 1100.50,111.74 1100.75,111.72 1101.00,111.67 1101.25,111.56 1101.50,111.45 1101.75,111.34 1102.00,111.23 1102.25,111.12 1102.50,111.01 1102.75,110.90 1103.00,110.79 1103.25,110.68 1103.50,110.58 1103.75,110.47 1104.00,110.36 1104.25,110.25 1104.50,110.14 1104.75,110.03 1105.00,109.92 1105.25,109.81 1105.50,109.70 1105.75,109.59 1106.00,109.48 1106.25,109.37 1106.50,109.26 1106.75,109.15 1107.00,109.04 1107.25,108.93 1107.50,108.83 1107.75,108.72 1108.00,108.61 1108.25,108.50 1108.50,108.39 1108.75,108.28 1109.00,108.17 1109.25,108.06 1109.50,107.95 1109.75,107.84 1110.00,107.73 1110.25,107.62 1110.50,107.51 1110.75,107.48 1111.00,107.48 1111.25,107.48 1111.50,107.48 1111.75,107.48 1111.75,118.03 1111.50,118.06 1111.25,118.08 1111.00,118.10 1110.75,118.12 1110.50,118.14 1110.25,118.16 1110.00,118.18 1109.75,118.20 1109.50,118.22 1109.25,118.24 1109.00,118.26 1108.75,118.28 1108.50,118.31 1108.25,118.33 1108.00,118.43 1107.75,118.59 1107.50,118.74 1107.25,118.90 1107.00,119.06 1106.75,119.21 1106.50,119.37 1106.25,119.53 1106.00,119.68 1105.75,119.84 1105.50,119.99 1105.25,120.15 1105.00,120.31 1104.75,120.46 1104.50,120.62 1104.25,120.78 1104.00,120.93 1103.75,121.09 1103.50,121.24 1103.25,121.36 1103.00,121.40 1102.75,121.45 1102.50,121.49 1102.25,121.53 1102.00,121.57 1101.75,121.61 1101.50,121.65 1101.25,121.70 1101.00,121.74 1100.75,121.78 1100.50,121.82 1100.25,121.86 1100.00,121.90 1099.75,121.95 1099.50,121.99 1099.25,122.03 1099.00,122.07 1098.75,122.11 1098.50,122.15 1098.25,122.20 1098.00,122.24 1097.75,122.28 1097.50,122.32 1097.25,122.36 1097.00,122.40 1096.75,122.45 1096.50,122.49 1096.25,122.53 1096.00,122.55 1095.75,122.55 1095.50,122.55 1095.25,122.55 1095.00,122.55 1094.75,122.55 1094.50,122.55 1094.25,122.55 1094.00,122.55 1093.75,122.55 1093.50,122.55 1093.25,122.55 1093.00,122.55 1092.75,122.55 1092.50,122.55 1092.25,122.55 1092.00,122.55 1091.75,122.55 1091.50,122.55 1091.25,122.55 1091.00,122.55 1090.75,122.55 1090.50,122.55 1090.25,122.55 1090.00,122.55 1089.75,122.55 1089.50,122.55 1089.25,122.55 1089.00,122.55 1088.75,122.85 1088.50,123.47 1088.25,124.10 1088.00,124.72 1087.75,125.35 1087.50,125.97 1087.25,126.60 1087.00,127.22 1086.75,127.85 1086.50,128.47 1086.25,128.62 1086.00,128.66 1085.75,128.71 1085.50,128.76 1085.25,128.80 1085.00,128.85 1084.75,128.89 1084.50,128.94 1084.25,128.98 1084.00,129.03 1083.75,129.07 1083.50,129.12 1083.25,129.16 1083.00,129.21 1082.75,129.26 1082.50,129.30 1082.25,129.35 1082.00,129.39 1081.75,129.44 1081.50,129.48 1081.25,129.53 1081.00,129.57 1080.75,129.62 1080.50,129.66 1080.25,129.71 1080.00,129.76 1079.75,130.43 1079.50,132.60 1079.25,134.76 1079.00,136.93 1078.75,139.10 1078.50,141.26 1078.25,143.43 1078.00,145.47 1077.75,145.59 1077.50,145.72 1077.25,145.84 1077.00,145.97 1076.75,146.09 1076.50,146.22 1076.25,146.34 1076.00,146.47 1075.75,146.59 1075.50,146.72 1075.25,146.84 1075.00,146.97 1074.75,147.09 1074.50,147.22 1074.25,147.10 1074.00,146.82 1073.75,146.54 1073.50,146.26 1073.25,145.98 1073.00,145.70 1072.75,145.42 1072.50,145.13 1072.25,144.85 1072.00,144.57 1071.75,144.29 1071.50,144.01 1071.25,143.73 1071.00,143.45 1070.75,143.17 1070.50,142.88 1070.25,142.60 1070.00,142.32 1069.75,142.04 1069.50,141.90 1069.25,142.09 1069.00,142.28 1068.75,142.46 1068.50,142.65 1068.25,142.84 1068.00,143.03 1067.75,143.21 1067.50,143.40 1067.25,143.59 1067.00,143.78 1066.75,143.96 1066.50,144.15 1066.25,144.34 1066.00,144.53 1065.75,144.71 1065.50,144.90 1065.25,145.09 1065.00,145.28 1064.75,145.46 1064.50,145.50 1064.25,145.55 1064.00,145.59 1063.75,145.63 1063.50,145.67 1063.25,145.71 1063.00,145.75 1062.75,145.80 1062.50,145.84 1062.25,145.88 1062.00,145.92 1061.75,145.96 1061.50,146.00 1061.25,146.05 1061.00,146.09 1060.75,146.13 1060.50,146.17 1060.25,146.21 1060.00,146.25 1059.75,146.30 1059.50,146.34 1059.25,146.38 1059.00,146.42 1058.75,146.46 1058.50,146.50 1058.25,146.55 1058.00,146.59 1057.75,146.62 1057.50,146.67 1057.25,146.72 1057.00,146.77 1056.75,146.82 1056.50,146.87 1056.25,146.96 1056.00,147.07 1055.75,147.17 1055.50,147.28 1055.25,147.38 1055.00,147.49 1054.75,147.59 1054.50,147.69 1054.25,147.80 1054.00,147.90 1053.75,148.01 1053.50,148.11 1053.25,148.21 1053.00,148.32 1052.75,148.42 1052.50,148.53 1052.25,148.63 1052.00,149.02 1051.75,149.47 1051.50,149.93 1051.25,150.39 1051.00,150.85 1050.75,151.31 1050.50,151.77 1050.25,152.22 1050.00,152.55 1049.75,152.55 1049.50,152.55 1049.25,152.55 1049.00,152.55 1048.75,152.55 1048.50,152.55 1048.25,152.55 1048.00,152.55 1047.75,152.55 1047.50,152.55 1047.25,152.55 1047.00,152.55 1046.75,152.55 1046.50,152.54 1046.25,152.37 1046.00,152.20 1045.75,152.04 1045.50,151.87 1045.25,151.70 1045.00,151.54 1044.75,151.37 1044.50,151.20 1044.25,150.98 1044.00,150.71 1043.75,150.45 1043.50,150.18 1043.25,149.92 1043.00,149.65 1042.75,149.38 1042.50,149.12 1042.25,148.85 1042.00,148.59 1041.75,148.32 1041.50,148.06 1041.25,147.79 1041.00,147.53 1040.75,147.26 1040.50,146.99 1040.25,146.73 1040.00,146.46 1039.75,146.20 1039.50,145.93 1039.25,145.67 1039.00,145.40 1038.75,145.13 1038.50,145.72 1038.25,146.41 1038.00,147.10 1037.75,147.78 1037.50,148.47 1037.25,149.01 1037.00,149.04 1036.75,149.06 1036.50,149.09 1036.25,149.11 1036.00,149.14 1035.75,149.16 1035.50,149.19 1035.25,149.21 1035.00,149.24 1034.75,149.26 1034.50,149.29 1034.25,149.31 1034.00,149.34 1033.75,149.36 1033.50,149.17 1033.25,148.98 1033.00,148.79 1032.75,148.61 1032.50,148.42 1032.25,148.30 1032.00,148.30 1031.75,148.30 1031.50,148.30 1031.25,148.30 1031.00,148.30 1030.75,148.30 1030.50,148.30 1030.25,148.30 1030.00,148.30 1029.75,148.30 1029.50,148.30 1029.25,148.30 1029.00,148.30 1028.75,148.30 1028.50,148.30 1028.25,148.30 1028.00,148.30 1027.75,148.30 1027.50,148.30 1027.25,149.30 1027.00,151.30 1026.75,153.30 1026.50,154.10 1026.25,154.28 1026.00,154.47 1025.75,154.66 1025.50,154.85 1025.25,155.03 1025.00,155.22 1024.75,155.41 1024.50,155.60 1024.25,155.78 1024.00,155.97 1023.75,156.15 1023.50,156.32 1023.25,156.49 1023.00,156.65 1022.75,156.82 1022.50,156.99 1022.25,157.15 1022.00,157.32 1021.75,157.49 1021.50,157.65 1021.25,157.82 1021.00,157.99 1020.75,174.27 1020.50,174.35 1020.25,174.43 1020.00,174.52 1019.75,174.60 1019.50,174.68 1019.25,174.77 1019.00,174.85 1018.75,174.93 1018.50,175.02 1018.25,175.10 1018.00,175.18 1017.75,175.27 1017.50,175.35 1017.25,175.43 1017.00,175.52 1016.75,175.60 1016.50,175.41 1016.25,175.20 1016.00,175.00 1015.75,174.79 1015.50,174.59 1015.25,174.39 1015.00,174.18 1014.75,173.98 1014.50,173.77 1014.25,173.57 1014.00,173.36 1013.75,173.16 1013.50,172.95 1013.25,172.75 1013.00,172.54 1012.75,170.07 1012.50,163.32 1012.25,163.09 1012.00,163.37 1011.75,163.64 1011.50,163.92 1011.25,164.19 1011.00,164.47 1010.75,164.74 1010.50,165.02 1010.25,165.29 1010.00,165.57 1009.75,165.84 1009.50,166.12 1009.25,166.39 1009.00,166.67 1008.75,166.87 1008.50,167.04 1008.25,167.22 1008.00,167.39 1007.75,167.57 1007.50,167.74 1007.25,167.92 1007.00,168.09 1006.75,168.27 1006.50,168.44 1006.25,168.62 1006.00,168.79 1005.75,168.97 1005.50,169.14 1005.25,169.09 1005.00,168.86 1004.75,168.63 1004.50,168.40 1004.25,168.17 1004.00,167.95 1003.75,167.72 1003.50,167.49 1003.25,167.26 1003.00,167.03 1002.75,166.80 1002.50,166.57 1002.25,166.34 1002.00,166.11 1001.75,165.88 1001.50,165.65 1001.25,165.42 1001.00,164.11 1000.75,161.86 1000.50,159.61 1000.25,158.64 1000.00,158.23 999.75,157.81 999.50,157.39 999.25,156.98 999.00,156.56 998.75,156.14 998.50,155.73 998.25,154.77 998.00,151.52 997.75,148.27 997.50,146.09 997.25,145.87 997.00,145.64 996.75,145.42 996.50,145.19 996.25,144.97 996.00,144.74 995.75,144.52 995.50,144.29 995.25,144.07 995.00,143.84 994.75,143.62 994.50,143.39 994.25,143.17 994.00,142.99 993.75,143.05 993.50,143.11 993.25,143.18 993.00,143.24 992.75,143.30 992.50,143.36 992.25,143.43 992.00,143.49 991.75,143.55 991.50,143.61 991.25,143.68 991.00,143.74 990.75,143.80 990.50,143.86 990.25,143.93 990.00,143.99 989.75,144.05 989.50,144.11 989.25,144.18 989.00,144.24 988.75,144.30 988.50,144.36 988.25,144.43 988.00,144.49 987.75,144.55 987.50,144.61 987.25,144.68 987.00,144.74 986.75,144.97 986.50,145.25 986.25,145.52 986.00,145.80 985.75,146.07 985.50,146.35 985.25,146.62 985.00,146.90 984.75,147.17 984.50,147.45 984.25,147.72 984.00,148.00 983.75,148.27 983.50,148.55 983.25,148.71 983.00,148.80 982.75,148.90 982.50,148.99 982.25,149.09 982.00,149.18 981.75,149.27 981.50,149.37 981.25,149.46 981.00,149.55 980.75,149.65 980.50,149.81 980.25,150.17 980.00,150.52 979.75,150.87 979.50,151.23 979.25,151.58 979.00,151.94 978.75,152.29 978.50,152.65 978.25,153.00 978.00,153.35 977.75,153.71 977.50,154.06 977.25,154.42 977.00,154.77 976.75,155.12 976.50,155.48 976.25,155.74 976.00,155.74 975.75,155.74 975.50,155.74 975.25,155.74 975.00,155.74 974.75,155.74 974.50,155.74 974.25,155.74 974.00,155.74 973.75,155.74 973.50,155.74 973.25,155.74 973.00,155.74 972.75,155.74 972.50,155.74 972.25,155.74 972.00,155.74 971.75,155.74 971.50,155.74 971.25,155.74 971.00,155.74 970.75,155.74 970.50,155.74 970.25,155.74 970.00,155.74 969.75,155.74 969.50,155.74 969.25,155.74 969.00,155.74 968.75,155.74 968.50,155.74 968.25,155.74 968.00,155.74 967.75,155.74 967.50,155.74 967.25,155.74 967.00,155.62 966.75,155.30 966.50,154.97 966.25,154.65 966.00,154.32 965.75,154.00 965.50,153.67 965.25,153.35 965.00,153.02 964.75,152.70 964.50,152.37 964.25,152.05 964.00,151.72 963.75,151.40 963.50,151.18 963.25,151.43 963.00,151.68 962.75,151.93 962.50,152.18 962.25,152.43 962.00,152.68 961.75,152.99 961.50,153.14 961.25,153.29 961.00,153.44 960.75,153.59 960.50,153.74 960.25,153.89 960.00,154.04 959.75,154.19 959.50,154.34 959.25,154.49 959.00,154.64 958.75,154.79 958.50,154.94 958.25,155.09 958.00,155.24 957.75,155.39 957.50,155.29 957.25,154.94 957.00,154.60 956.75,154.26 956.50,153.91 956.25,153.57 956.00,153.23 955.75,152.88 955.50,152.54 955.25,152.19 955.00,151.85 954.75,151.51 954.50,151.16 954.25,150.82 954.00,150.48 953.75,150.13 953.50,149.79 953.25,149.44 953.00,149.10 952.75,148.75 952.50,148.38 952.25,148.00 952.00,147.63 951.75,147.25 951.50,146.88 951.25,146.50 951.00,146.13 950.75,145.75 950.50,145.38 950.25,145.27 950.00,145.36 949.75,145.45 949.50,145.55 949.25,145.64 949.00,145.74 948.75,145.83 948.50,145.92 948.25,146.02 948.00,146.11 947.75,146.20 947.50,146.30 947.25,146.39 947.00,146.49 946.75,146.58 946.50,146.67 946.25,146.77 946.00,146.86 945.75,146.95 945.50,146.96 945.25,146.74 945.00,146.52 944.75,146.31 944.50,146.09 944.25,145.87 944.00,145.65 943.75,145.43 943.50,145.21 943.25,144.99 943.00,144.77 942.75,144.56 942.50,144.34 942.25,144.12 942.00,143.90 941.75,143.68 941.50,143.46 941.25,143.24 941.00,143.02 940.75,142.81 940.50,143.00 940.25,143.20 940.00,143.40 939.75,143.60 939.50,143.80 939.25,144.00 939.00,144.20 938.75,144.40 938.50,144.60 938.25,144.80 938.00,145.00 937.75,145.20 937.50,145.40 937.25,145.60 937.00,145.80 936.75,146.00 936.50,146.20 936.25,146.40 936.00,146.60 935.75,146.80 935.50,147.00 935.25,147.20 935.00,147.40 934.75,147.60 934.50,147.37 934.25,147.08 934.00,146.79 933.75,146.50 933.50,146.20 933.25,145.91 933.00,145.62 932.75,145.33 932.50,145.04 932.25,144.75 932.00,144.45 931.75,144.16 931.50,143.87 931.25,143.58 931.00,142.80 930.75,141.30 930.50,139.80 930.25,138.30 930.00,136.80 929.75,136.21 929.50,136.27 929.25,136.33 929.00,136.39 928.75,136.46 928.50,136.52 928.25,136.58 928.00,136.64 927.75,136.71 927.50,136.77 927.25,136.83 927.00,136.89 926.75,136.96 926.50,137.02 926.25,137.08 926.00,137.14 925.75,137.21 925.50,137.27 925.25,137.33 925.00,137.42 924.75,137.57 924.50,137.72 924.25,137.87 924.00,138.02 923.75,138.17 923.50,138.32 923.25,138.47 923.00,138.62 922.75,138.77 922.50,138.92 922.25,139.07 922.00,139.22 921.75,139.37 921.50,139.52 921.25,139.67 921.00,139.82 920.75,139.97 920.50,140.12 920.25,140.27 920.00,140.42 919.75,140.57 919.50,140.72 919.25,140.87 919.00,140.96 918.75,140.77 918.50,140.59 918.25,140.40 918.00,140.21 917.75,140.02 917.50,139.84 917.25,139.65 917.00,139.46 916.75,139.27 916.50,139.09 916.25,138.90 916.00,138.71 915.75,138.52 915.50,138.34 915.25,138.15 915.00,137.96 914.75,137.77 914.50,137.59 914.25,137.40 914.00,137.29 913.75,137.20 913.50,137.11 913.25,137.01 913.00,136.92 912.75,136.82 912.50,136.73 912.25,136.64 912.00,136.54 911.75,136.45 911.50,136.36 911.25,136.26 911.00,136.17 910.75,136.07 910.50,135.98 910.25,135.89 910.00,135.79 909.75,135.70 909.50,135.61 909.25,135.60 909.00,135.65 908.75,135.70 908.50,135.75 908.25,135.80 908.00,135.85 907.75,135.90 907.50,135.95 907.25,136.00 907.00,136.05 906.75,136.10 906.50,136.15 906.25,136.20 906.00,136.25 905.75,136.30 905.50,136.35 905.25,136.40 905.00,136.45 904.75,136.50 904.50,136.55 904.25,136.60 904.00,136.65 903.75,136.70 903.50,136.75 903.25,136.78 903.00,136.80 902.75,136.81 902.50,136.83 902.25,136.84 902.00,136.86 901.75,136.87 901.50,136.89 901.25,136.91 901.00,136.92 900.75,136.94 900.50,136.95 900.25,136.97 900.00,136.98 899.75,137.00 899.50,137.02 899.25,137.03 899.00,137.05 898.75,137.06 898.50,137.08 898.25,137.09 898.00,137.11 897.75,137.12 897.50,137.14 897.25,137.16 897.00,137.17 896.75,137.19 896.50,137.20 896.25,137.22 896.00,137.23 895.75,137.25 895.50,137.27 895.25,137.28 895.00,137.30 894.75,137.31 894.50,137.33 894.25,137.34 894.00,137.36 893.75,137.37 893.50,137.24 893.25,137.08 893.00,136.92 892.75,136.77 892.50,136.61 892.25,136.45 892.00,136.30 891.75,136.14 891.50,135.99 891.25,135.83 891.00,135.67 890.75,135.52 890.50,135.36 890.25,135.20 890.00,135.05 889.75,134.89 889.50,134.74 889.25,134.58 889.00,134.42 888.75,134.38 888.50,134.41 888.25,134.44 888.00,134.47 887.75,134.51 887.50,134.54 887.25,134.57 887.00,134.60 886.75,134.63 886.50,134.66 886.25,134.69 886.00,134.72 885.75,134.76 885.50,134.79 885.25,134.82 885.00,134.85 884.75,134.88 884.50,134.91 884.25,134.94 884.00,135.04 883.75,135.29 883.50,135.54 883.25,135.79 883.00,136.04 882.75,136.29 882.50,136.54 882.25,136.79 882.00,137.04 881.75,137.29 881.50,137.54 881.25,137.79 881.00,138.04 880.75,138.29 880.50,138.54 880.25,138.69 880.00,138.81 879.75,138.94 879.50,139.06 879.25,139.19 879.00,139.31 878.75,139.44 878.50,139.56 878.25,139.69 878.00,139.81 877.75,139.94 877.50,140.06 877.25,140.19 877.00,140.31 876.75,140.44 876.50,140.56 876.25,140.69 876.00,140.81 875.75,140.94 875.50,140.91 875.25,140.76 875.00,140.61 874.75,140.46 874.50,140.31 874.25,140.16 874.00,140.01 873.75,139.86 873.50,139.71 873.25,139.56 873.00,139.41 872.75,139.26 872.50,139.11 872.25,138.96 872.00,138.81 871.75,138.66 871.50,138.51 871.25,138.36 871.00,138.21 870.75,138.06 870.50,137.91 870.25,137.76 870.00,137.61 869.75,137.46 869.50,137.34 869.25,137.27 869.00,137.20 868.75,137.13 868.50,137.06 868.25,136.99 868.00,136.92 867.75,136.84 867.50,136.77 867.25,136.70 867.00,136.63 866.75,136.56 866.50,136.49 866.25,136.42 866.00,136.34 865.75,136.27 865.50,136.20 865.25,136.13 865.00,136.06 864.75,135.99 864.50,135.92 864.25,135.84 864.00,135.77 863.75,135.70 863.50,135.63 863.25,135.56 863.00,135.49 862.75,135.42 862.50,135.34 862.25,135.27 862.00,135.20 861.75,135.13 861.50,135.06 861.25,134.99 861.00,134.98 860.75,135.00 860.50,135.02 860.25,135.04 860.00,135.06 859.75,135.08 859.50,135.10 859.25,135.13 859.00,135.15 858.75,135.17 858.50,135.19 858.25,135.21 858.00,135.23 857.75,135.25 857.50,135.27 857.25,135.29 857.00,135.31 856.75,135.33 856.50,135.35 856.25,135.38 856.00,135.40 855.75,135.42 855.50,135.44 855.25,135.46 855.00,135.48 854.75,135.50 854.50,135.52 854.25,135.54 854.00,135.56 853.75,135.54 853.50,135.51 853.25,135.48 853.00,135.45 852.75,135.42 852.50,135.39 852.25,135.36 852.00,135.33 851.75,135.29 851.50,135.26 851.25,135.23 851.00,135.20 850.75,135.17 850.50,135.14 850.25,135.11 850.00,135.08 849.75,135.04 849.50,135.01 849.25,134.98 849.00,134.99 848.75,135.04 848.50,135.09 848.25,135.14 848.00,135.19 847.75,135.24 847.50,135.29 847.25,135.34 847.00,135.39 846.75,135.44 846.50,135.49 846.25,135.54 846.00,135.59 845.75,135.64 845.50,135.69 845.25,135.74 845.00,135.79 844.75,135.84 844.50,135.89 844.25,135.94 844.00,135.99 843.75,136.04 843.50,136.09 843.25,136.14 843.00,136.14 842.75,136.04 842.50,135.95 842.25,135.86 842.00,135.76 841.75,135.67 841.50,135.58 841.25,135.48 841.00,135.39 840.75,135.29 840.50,135.20 840.25,135.11 840.00,135.01 839.75,134.92 839.50,134.83 839.25,134.73 839.00,134.64 838.75,134.54 838.50,134.45 838.25,134.36 838.00,134.36 837.75,134.36 837.50,134.36 837.25,134.36 837.00,134.36 836.75,134.36 836.50,134.36 836.25,134.36 836.00,134.36 835.75,134.36 835.50,134.36 835.25,134.36 835.00,134.36 834.75,134.36 834.50,134.39 834.25,134.43 834.00,134.47 833.75,134.51 833.50,134.55 833.25,134.59 833.00,134.64 832.75,134.68 832.50,134.72 832.25,134.76 832.00,134.80 831.75,134.84 831.50,134.89 831.25,134.93 831.00,134.99 830.75,135.24 830.50,135.49 830.25,135.74 830.00,135.99 829.75,136.24 829.50,136.49 829.25,136.74 829.00,136.99 828.75,137.24 828.50,137.34 828.25,137.25 828.00,137.17 827.75,137.09 827.50,137.00 827.25,136.92 827.00,136.84 826.75,136.35 826.50,136.23 826.25,136.16 826.00,136.15 825.75,136.13 825.50,136.12 825.25,136.10 825.00,136.08 824.75,136.07 824.50,136.05 824.25,136.04 824.00,136.02 823.75,136.01 823.50,135.99 823.25,135.97 823.00,135.96 822.75,135.94 822.50,135.93 822.25,135.91 822.00,135.90 821.75,135.88 821.50,135.87 821.25,135.85 821.00,135.83 820.75,135.82 820.50,135.80 820.25,135.79 820.00,135.77 819.75,135.76 819.50,135.74 819.25,135.72 819.00,135.71 818.75,135.69 818.50,135.68 818.25,135.66 818.00,135.65 817.75,135.63 817.50,135.62 817.25,135.60 817.00,135.58 816.75,135.57 816.50,135.69 816.25,135.81 816.00,135.94 815.75,136.06 815.50,136.19 815.25,136.31 815.00,136.44 814.75,136.56 814.50,136.69 814.25,136.81 814.00,136.94 813.75,137.06 813.50,137.19 813.25,137.31 813.00,137.38 812.75,137.38 812.50,137.38 812.25,137.38 812.00,137.38 811.75,137.38 811.50,137.38 811.25,137.38 811.00,137.38 810.75,137.38 810.50,137.38 810.25,137.38 810.00,137.38 809.75,137.38 809.50,137.38 809.25,137.38 809.00,137.38 808.75,137.38 808.50,137.38 808.25,137.38 808.00,137.38 807.75,137.38 807.50,137.38 807.25,137.38 807.00,137.38 806.75,137.38 806.50,137.38 806.25,137.38 806.00,137.38 805.75,137.38 805.50,137.38 805.25,137.38 805.00,137.38 804.75,137.38 804.50,137.38 804.25,137.38 804.00,137.38 803.75,137.38 803.50,137.38 803.25,137.38 803.00,137.38 802.75,137.38 802.50,137.38 802.25,137.38 802.00,137.38 801.75,137.38 801.50,137.38 801.25,137.38 801.00,137.38 800.75,137.38 800.50,137.38 800.25,137.38 800.00,137.38 799.75,137.38 799.50,137.38 799.25,137.38 799.00,137.38 798.75,137.38 798.50,137.18 798.25,136.87 798.00,136.56 797.75,136.25 797.50,135.93 797.25,135.62 797.00,135.31 796.75,135.00 796.50,134.68 796.25,134.37 796.00,134.37 795.75,134.38 795.50,134.40 795.25,134.41 795.00,134.42 794.75,134.43 794.50,134.44 794.25,134.45 794.00,134.46 793.75,134.48 793.50,134.49 793.25,134.50 793.00,134.51 792.75,134.52 792.50,134.53 792.25,134.54 792.00,134.56 791.75,134.57 791.50,134.58 791.25,134.59 791.00,134.60 790.75,134.61 790.50,134.62 790.25,134.63 790.00,134.65 789.75,134.66 789.50,134.67 789.25,134.68 789.00,134.69 788.75,134.70 788.50,134.71 788.25,134.73 788.00,134.74 787.75,134.75 787.50,134.76 787.25,134.77 787.00,134.78 786.75,134.79 786.50,134.81 786.25,134.82 786.00,134.83 785.75,134.84 785.50,134.85 785.25,134.86 785.00,134.87 784.75,134.88 784.50,134.90 784.25,134.91 784.00,134.92 783.75,134.93 783.50,134.94 783.25,134.95 783.00,134.96 782.75,135.12 782.50,135.29 782.25,135.45 782.00,135.62 781.75,135.79 781.50,135.95 781.25,136.12 781.00,136.29 780.75,136.45 780.50,136.62 780.25,136.79 780.00,136.95 779.75,137.12 779.50,137.29 779.25,137.38 779.00,137.38 778.75,137.38 778.50,137.38 778.25,137.38 778.00,137.38 777.75,137.38 777.50,137.38 777.25,137.38 777.00,137.38 776.75,137.38 776.50,137.38 776.25,137.38 776.00,137.38 775.75,137.38 775.50,137.38 775.25,137.38 775.00,137.38 774.75,137.38 774.50,137.38 774.25,137.42 774.00,137.45 773.75,137.49 773.50,137.53 773.25,137.56 773.00,137.60 772.75,137.63 772.50,137.67 772.25,137.70 772.00,137.74 771.75,137.78 771.50,137.81 771.25,137.85 771.00,137.88 770.75,137.92 770.50,137.95 770.25,137.99 770.00,138.03 769.75,138.06 769.50,138.10 769.25,138.13 769.00,138.17 768.75,138.20 768.50,138.24 768.25,138.28 768.00,138.31 767.75,138.35 767.50,138.38 767.25,138.42 767.00,138.45 766.75,138.49 766.50,138.53 766.25,138.56 766.00,138.60 765.75,138.65 765.50,138.70 765.25,138.75 765.00,138.80 764.75,138.85 764.50,138.90 764.25,138.95 764.00,139.00 763.75,139.05 763.50,139.10 763.25,139.15 763.00,139.20 762.75,139.25 762.50,139.30 762.25,139.35 762.00,139.40 761.75,139.45 761.50,139.50 761.25,139.55 761.00,139.60 760.75,139.65 760.50,139.70 760.25,139.75 760.00,139.81 759.75,139.90 759.50,139.98 759.25,140.06 759.00,140.15 758.75,140.23 758.50,140.31 758.25,140.40 758.00,140.48 757.75,140.56 757.50,140.65 757.25,140.73 757.00,140.81 756.75,140.90 756.50,140.98 756.25,141.06 756.00,141.15 755.75,141.23 755.50,141.31 755.25,141.40 755.00,141.48 754.75,141.56 754.50,141.65 754.25,141.73 754.00,141.81 753.75,141.90 753.50,141.98 753.25,142.06 753.00,142.15 752.75,142.44 752.50,143.13 752.25,143.82 752.00,144.50 751.75,145.19 751.50,145.88 751.25,146.57 751.00,147.25 750.75,147.94 750.50,148.63 750.25,149.10 750.00,149.47 749.75,149.85 749.50,150.22 749.25,150.60 749.00,150.97 748.75,151.35 748.50,151.72 748.25,152.10 748.00,152.47 747.75,152.85 747.50,153.22 747.25,153.60 747.00,153.97 746.75,154.25 746.50,154.21 746.25,154.18 746.00,154.14 745.75,154.10 745.50,154.07 745.25,154.03 745.00,154.00 744.75,153.96 744.50,153.93 744.25,153.89 744.00,153.85 743.75,153.82 743.50,153.78 743.25,153.75 743.00,153.71 742.75,153.68 742.50,153.64 742.25,153.60 742.00,153.57 741.75,153.53 741.50,153.50 741.25,153.46 741.00,153.43 740.75,153.39 740.50,153.35 740.25,153.32 740.00,153.28 739.75,153.25 739.50,153.21 739.25,153.18 739.00,153.14 738.75,153.10 738.50,153.07 738.25,152.87 738.00,152.50 737.75,152.12 737.50,151.75 737.25,151.37 737.00,151.00 736.75,150.62 736.50,150.25 736.25,149.87 736.00,149.50 735.75,149.12 735.50,148.75 735.25,148.37 735.00,148.00 734.75,147.62 734.50,147.25 734.25,146.87 734.00,146.50 733.75,146.12 733.50,145.85 733.25,146.00 733.00,146.16 732.75,146.31 732.50,146.47 732.25,146.63 732.00,146.78 731.75,146.94 731.50,147.10 731.25,147.25 731.00,147.41 730.75,147.56 730.50,147.72 730.25,147.88 730.00,148.03 729.75,148.19 729.50,148.35 729.25,148.50 729.00,148.66 728.75,148.81 728.50,149.56 728.25,150.37 728.00,151.18 727.75,152.00 727.50,152.81 727.25,153.62 727.00,154.43 726.75,155.25 726.50,156.06 726.25,156.67 726.00,156.70 725.75,156.72 725.50,156.75 725.25,156.77 725.00,156.80 724.75,156.82 724.50,156.85 724.25,156.87 724.00,156.90 723.75,156.92 723.50,156.95 723.25,156.97 723.00,157.00 722.75,157.02 722.50,157.05 722.25,157.07 722.00,157.10 721.75,157.12 721.50,157.15 721.25,157.17 721.00,157.20 720.75,157.22 720.50,157.25 720.25,157.23 720.00,156.94 719.75,156.65 719.50,156.36 719.25,156.06 719.00,155.77 718.75,155.48 718.50,155.19 718.25,154.90 718.00,154.61 717.75,154.31 717.50,154.02 717.25,153.73 717.00,153.44 716.75,153.15 716.50,151.46 716.25,149.08 716.00,146.71 715.75,144.33 715.50,141.96 715.25,141.62 715.00,141.64 714.75,141.67 714.50,141.69 714.25,141.72 714.00,141.74 713.75,141.77 713.50,141.79 713.25,141.82 713.00,141.84 712.75,141.87 712.50,141.89 712.25,141.92 712.00,141.94 711.75,141.97 711.50,141.99 711.25,142.02 711.00,142.04 710.75,142.07 710.50,142.09 710.25,142.12 710.00,142.14 709.75,142.17 709.50,142.19 709.25,142.20 709.00,142.20 708.75,142.20 708.50,142.20 708.25,142.20 708.00,142.20 707.75,142.20 707.50,142.20 707.25,142.20 707.00,142.20 706.75,142.20 706.50,142.20 706.25,142.20 706.00,142.20 705.75,142.20 705.50,142.20 705.25,142.20 705.00,142.20 704.75,142.20 704.50,142.20 704.25,142.20 704.00,142.20 703.75,142.20 703.50,142.20 703.25,142.20 703.00,142.20 702.75,142.20 702.50,142.20 702.25,142.20 702.00,142.20 701.75,142.20 701.50,142.20 701.25,142.20 701.00,142.20 700.75,142.20 700.50,142.20 700.25,142.20 700.00,142.20 699.75,142.20 699.50,142.20 699.25,142.20 699.00,142.20 698.75,142.20 698.50,142.20 698.25,142.20 698.00,142.20 697.75,142.20 697.50,142.20 697.25,142.20 697.00,142.20 696.75,142.20 696.50,142.20 696.25,142.20 696.00,142.20 695.75,142.20 695.50,142.20 695.25,142.20 695.00,142.20 694.75,142.20 694.50,142.20 694.25,142.20 694.00,142.20 693.75,142.20 693.50,142.20 693.25,142.20 693.00,142.20 692.75,142.20 692.50,142.20 692.25,142.20 692.00,142.20 691.75,142.20 691.50,142.20 691.25,142.20 691.00,142.20 690.75,142.20 690.50,142.20 690.25,142.20 690.00,142.20 689.75,142.20 689.50,142.20 689.25,142.20 689.00,142.20 688.75,142.20 688.50,142.20 688.25,142.20 688.00,142.20 687.75,142.20 687.50,142.61 687.25,143.06 687.00,143.51 686.75,143.96 686.50,144.37 686.25,144.37 686.00,144.37 685.75,144.38 685.50,144.38 685.25,144.38 685.00,144.38 684.75,144.39 684.50,144.39 684.25,144.39 684.00,144.39 683.75,144.39 683.50,144.40 683.25,144.40 683.00,144.40 682.75,144.40 682.50,144.41 682.25,144.41 682.00,144.41 681.75,144.41 681.50,144.42 681.25,144.42 681.00,144.42 680.75,144.42 680.50,144.42 680.25,144.43 680.00,144.43 679.75,144.43 679.50,144.43 679.25,144.44 679.00,144.44 678.75,144.44 678.50,144.44 678.25,144.44 678.00,144.45 677.75,144.45 677.50,144.45 677.25,144.45 677.00,144.46 676.75,144.46 676.50,144.46 676.25,144.46 676.00,144.47 675.75,144.47 675.50,144.47 675.25,144.47 675.00,144.47 674.75,144.48 674.50,144.48 674.25,144.48 674.00,144.48 673.75,144.49 673.50,144.49 673.25,144.49 673.00,144.49 672.75,144.49 672.50,144.50 672.25,144.50 672.00,144.50 671.75,144.50 671.50,144.51 671.25,144.51 671.00,144.51 670.75,144.51 670.50,144.52 670.25,144.52 670.00,144.52 669.75,144.52 669.50,144.52 669.25,144.53 669.00,144.53 668.75,144.53 668.50,144.53 668.25,144.54 668.00,144.54 667.75,144.54 667.50,144.54 667.25,144.54 667.00,144.55 666.75,144.55 666.50,144.55 666.25,144.55 666.00,144.56 665.75,144.56 665.50,144.56 665.25,144.56 665.00,144.57 664.75,144.57 664.50,144.57 664.25,144.57 664.00,144.57 663.75,144.58 663.50,144.58 663.25,144.58 663.00,144.58 662.75,144.59 662.50,144.59 662.25,144.59 662.00,144.59 661.75,144.77 661.50,144.80 661.25,144.83 661.00,144.86 660.75,144.89 660.50,144.92 660.25,144.96 660.00,144.99 659.75,145.02 659.50,145.05 659.25,145.08 659.00,145.11 658.75,145.14 658.50,145.17 658.25,145.21 658.00,145.24 657.75,145.27 657.50,145.30 657.25,145.33 657.00,145.36 656.75,145.39 656.50,145.42 656.25,145.46 656.00,145.49 655.75,145.52 655.50,145.55 655.25,145.57 655.00,145.57 654.75,145.57 654.50,145.57 654.25,145.57 654.00,145.57 653.75,145.57 653.50,145.57 653.25,145.57 653.00,145.57 652.75,145.57 652.50,145.57 652.25,145.57 652.00,145.57 651.75,145.57 651.50,145.57 651.25,145.57 651.00,145.57 650.75,145.57 650.50,145.57 650.25,145.57 650.00,145.57 649.75,145.57 649.50,145.57 649.25,145.57 649.00,145.57 648.75,145.57 648.50,145.57 648.25,145.57 648.00,145.57 647.75,145.57 647.50,145.57 647.25,145.57 647.00,145.57 646.75,145.57 646.50,145.57 646.25,145.57 646.00,145.57 645.75,145.57 645.50,145.57 645.25,145.57 645.00,145.57 644.75,145.57 644.50,145.57 644.25,145.57 644.00,145.57 643.75,145.57 643.50,145.57 643.25,145.57 643.00,145.57 642.75,145.57 642.50,145.57 642.25,145.57 642.00,145.57 641.75,145.57 641.50,145.57 641.25,145.57 641.00,145.57 640.75,145.57 640.50,145.57 640.25,145.57 640.00,145.57 639.75,145.57 639.50,145.58 639.25,145.60 639.00,145.61 638.75,145.63 638.50,145.65 638.25,145.66 638.00,145.68 637.75,145.70 637.50,145.71 637.25,145.73 637.00,145.75 636.75,145.76 636.50,145.78 636.25,145.80 636.00,145.81 635.75,145.83 635.50,145.85 635.25,145.86 635.00,145.88 634.75,145.90 634.50,145.91 634.25,145.93 634.00,145.95 633.75,145.96 633.50,145.98 633.25,146.00 633.00,146.01 632.75,146.03 632.50,146.05 632.25,146.06 632.00,146.08 631.75,146.10 631.50,146.11 631.25,146.13 631.00,146.15 630.75,146.16 630.50,146.18 630.25,146.20 630.00,146.21 629.75,146.23 629.50,146.25 629.25,146.26 629.00,146.28 628.75,146.30 628.50,146.31 628.25,146.33 628.00,146.35 627.75,146.36 627.50,146.38 627.25,146.40 627.00,146.41 626.75,146.43 626.50,146.45 626.25,146.46 626.00,146.48 625.75,146.50 625.50,146.51 625.25,146.53 625.00,146.55 624.75,146.56 624.50,146.58 624.25,146.60 624.00,146.61 623.75,146.63 623.50,146.65 623.25,146.66 623.00,146.68 622.75,146.70 622.50,146.71 622.25,146.73 622.00,146.75 621.75,146.76 621.50,146.80 621.25,146.87 621.00,146.94 620.75,147.02 620.50,147.09 620.25,147.16 620.00,147.23 619.75,147.30 619.50,147.37 619.25,147.44 619.00,147.52 618.75,147.59 618.50,147.66 618.25,147.73 618.00,147.80 617.75,147.87 617.50,147.94 617.25,148.02 617.00,148.09 616.75,148.16 616.50,148.23 616.25,148.30 616.00,148.37 615.75,148.44 615.50,148.52 615.25,148.59 615.00,148.66 614.75,148.73 614.50,148.80 614.25,148.87 614.00,148.94 613.75,149.02 613.50,149.09 613.25,149.16 613.00,149.19 612.75,149.20 612.50,149.22 612.25,149.23 612.00,149.24 611.75,149.25 611.50,149.26 611.25,149.28 611.00,149.29 610.75,149.30 610.50,149.31 610.25,149.32 610.00,149.34 609.75,149.35 609.50,149.36 609.25,149.37 609.00,149.38 608.75,149.39 608.50,149.41 608.25,149.42 608.00,149.43 607.75,149.44 607.50,149.45 607.25,149.47 607.00,149.48 606.75,149.49 606.50,149.50 606.25,149.51 606.00,149.53 605.75,149.54 605.50,149.55 605.25,149.56 605.00,149.57 604.75,149.59 604.50,149.60 604.25,149.61 604.00,149.62 603.75,149.63 603.50,149.64 603.25,149.66 603.00,149.67 602.75,149.68 602.50,149.69 602.25,149.70 602.00,149.72 601.75,149.73 601.50,149.74 601.25,149.75 601.00,149.76 600.75,149.78 600.50,149.79 600.25,149.80 600.00,149.81 599.75,149.82 599.50,149.84 599.25,149.85 599.00,149.86 598.75,149.87 598.50,149.88 598.25,149.89 598.00,149.91 597.75,149.92 597.50,149.93 597.25,149.94 597.00,149.95 596.75,149.97 596.50,149.98 596.25,149.99 596.00,150.00 595.75,150.01 595.50,150.03 595.25,150.04 595.00,150.05 594.75,150.06 594.50,150.07 594.25,150.09 594.00,150.10 593.75,150.11 593.50,150.12 593.25,150.13 593.00,150.14 592.75,150.16 592.50,150.17 592.25,150.18 592.00,150.19 591.75,150.20 591.50,150.22 591.25,150.23 591.00,150.24 590.75,150.25 590.50,150.26 590.25,150.28 590.00,150.29 589.75,150.30 589.50,150.31 589.25,150.32 589.00,150.34 588.75,150.35 588.50,150.36 588.25,150.37 588.00,150.38 587.75,150.41 587.50,150.45 587.25,150.50 587.00,150.55 586.75,150.59 586.50,150.64 586.25,150.69 586.00,150.74 585.75,150.78 585.50,150.83 585.25,150.88 585.00,150.92 584.75,150.97 584.50,151.02 584.25,151.06 584.00,151.11 583.75,151.16 583.50,151.20 583.25,151.25 583.00,151.30 582.75,151.34 582.50,151.39 582.25,151.44 582.00,151.49 581.75,151.53 581.50,151.58 581.25,151.63 581.00,151.67 580.75,151.72 580.50,151.77 580.25,151.81 580.00,151.86 579.75,151.91 579.50,151.95 579.25,152.00 579.00,152.05 578.75,152.09 578.50,152.14 578.25,152.19 578.00,152.25 577.75,152.33 577.50,152.40 577.25,152.47 577.00,152.54 576.75,152.61 576.50,152.68 576.25,152.75 576.00,152.83 575.75,152.90 575.50,152.97 575.25,153.04 575.00,153.11 574.75,153.18 574.50,153.25 574.25,153.33 574.00,153.40 573.75,153.47 573.50,153.54 573.25,153.61 573.00,153.68 572.75,153.75 572.50,153.83 572.25,153.90 572.00,153.97 571.75,154.04 571.50,154.11 571.25,154.18 571.00,154.25 570.75,154.33 570.50,154.40 570.25,154.47 570.00,154.54 569.75,154.61 569.50,154.78 569.25,154.95 569.00,155.11 568.75,155.28 568.50,155.45 568.25,155.61 568.00,155.78 567.75,155.95 567.50,156.11 567.25,156.28 567.00,156.45 566.75,156.61 566.50,156.78 566.25,156.95 566.00,157.05 565.75,157.09 565.50,157.14 565.25,157.19 565.00,157.23 564.75,157.28 564.50,157.33 564.25,157.38 564.00,157.42 563.75,157.47 563.50,157.52 563.25,157.56 563.00,157.61 562.75,157.66 562.50,157.70 562.25,157.75 562.00,157.80 561.75,157.84 561.50,157.89 561.25,157.94 561.00,157.98 560.75,158.03 560.50,158.08 560.25,158.13 560.00,158.17 559.75,158.22 559.50,158.27 559.25,158.31 559.00,158.36 558.75,158.41 558.50,158.45 558.25,158.50 558.00,158.55 557.75,158.59 557.50,158.64 557.25,158.69 557.00,158.73 556.75,158.78 556.50,158.83 556.25,158.85 556.00,158.86 555.75,158.88 555.50,158.89 555.25,158.91 555.00,158.92 554.75,158.94 554.50,158.95 554.25,158.97 554.00,158.99 553.75,159.00 553.50,159.02 553.25,159.03 553.00,159.05 552.75,159.06 552.50,159.08 552.25,159.10 552.00,159.11 551.75,159.13 551.50,159.14 551.25,159.16 551.00,159.17 550.75,159.19 550.50,159.20 550.25,159.22 550.00,159.24 549.75,159.25 549.50,159.27 549.25,159.28 549.00,159.30 548.75,159.31 548.50,159.33 548.25,159.35 548.00,159.36 547.75,159.38 547.50,159.39 547.25,159.41 547.00,159.42 546.75,159.51 546.50,159.72 546.25,159.93 546.00,160.14 545.75,160.35 545.50,160.55 545.25,160.76 545.00,160.97 544.75,161.18 544.50,161.39 544.25,161.60 544.00,161.80 543.75,162.01 543.50,162.22 543.25,162.43 543.00,162.64 542.75,162.85 542.50,163.05 542.25,163.26 542.00,163.47 541.75,163.68 541.50,163.89 541.25,164.10 541.00,164.30 540.75,164.51 540.50,164.72 540.25,164.93 540.00,165.14 539.75,165.35 539.50,165.50 539.25,165.60 539.00,165.69 538.75,165.78 538.50,165.88 538.25,165.97 538.00,166.07 537.75,166.16 537.50,166.25 537.25,166.35 537.00,166.44 536.75,166.53 536.50,166.63 536.25,166.72 536.00,166.82 535.75,166.91 535.50,167.00 535.25,167.10 535.00,167.19 534.75,167.24 534.50,167.07 534.25,166.89 534.00,166.72 533.75,166.54 533.50,166.37 533.25,166.19 533.00,166.02 532.75,165.84 532.50,165.67 532.25,165.49 532.00,165.32 531.75,165.14 531.50,164.97 531.25,164.79 531.00,164.62 530.75,164.44 530.50,164.27 530.25,164.09 530.00,163.92 529.75,163.74 529.50,163.57 529.25,163.39 529.00,163.22 528.75,163.05 528.50,163.08 528.25,163.10 528.00,163.13 527.75,163.15 527.50,163.18 527.25,163.20 527.00,163.23 526.75,163.25 526.50,163.28 526.25,163.30 526.00,163.33 525.75,163.35 525.50,163.38 525.25,163.40 525.00,163.43 524.75,163.45 524.50,163.48 524.25,163.50 524.00,163.53 523.75,163.55 523.50,163.58 523.25,163.60 523.00,163.63 522.75,163.65 522.50,163.42 522.25,163.17 522.00,162.92 521.75,162.67 521.50,162.42 521.25,162.17 521.00,161.92 520.75,161.67 520.50,161.42 520.25,161.17 520.00,160.92 519.75,160.67 519.50,160.42 519.25,160.17 519.00,159.92 518.75,159.67 518.50,159.42 518.25,159.17 518.00,158.92 517.75,158.83 517.50,158.83 517.25,158.83 517.00,158.83 516.75,158.83 516.50,158.83 516.25,158.83 516.00,158.83 515.75,158.83 515.50,158.83 515.25,158.83 515.00,158.83 514.75,158.83 514.50,158.83 514.25,158.83 514.00,158.83 513.75,158.83 513.50,158.83 513.25,158.83 513.00,158.83 512.75,158.83 512.50,158.83 512.25,158.83 512.00,158.83 511.75,158.83 511.50,158.83 511.25,158.83 511.00,158.83 510.75,158.83 510.50,158.83 510.25,158.83 510.00,158.83 509.75,158.83 509.50,158.83 509.25,158.83 509.00,158.83 508.75,158.83 508.50,158.83 508.25,158.83 508.00,158.83 507.75,158.83 507.50,158.83 507.25,158.83 507.00,158.83 506.75,158.83 506.50,158.83 506.25,158.83 506.00,158.83 505.75,158.83 505.50,158.83 505.25,158.83 505.00,158.83 504.75,158.83 504.50,158.83 504.25,158.83 504.00,158.83 503.75,158.83 503.50,158.83 503.25,159.07 503.00,159.38 502.75,159.69 502.50,160.01 502.25,160.32 502.00,160.63 501.75,160.94 501.50,161.26 501.25,161.57 501.00,161.84 500.75,161.84 500.50,161.84 500.25,161.84 500.00,161.84 499.75,161.84 499.50,161.84 499.25,161.84 499.00,161.84 498.75,161.84 498.50,161.84 498.25,161.84 498.00,161.84 497.75,161.84 497.50,161.84 497.25,161.84 497.00,161.84 496.75,162.19 496.50,162.23 496.25,162.27 496.00,162.31 495.75,162.35 495.50,162.39 495.25,162.44 495.00,162.48 494.75,162.52 494.50,162.56 494.25,162.60 494.00,162.64 493.75,162.69 493.50,162.73 493.25,162.77 493.00,162.81 492.75,162.85 492.50,162.89 492.25,162.94 492.00,162.98 491.75,163.02 491.50,163.07 491.25,163.13 491.00,163.19 490.75,163.25 490.50,163.32 490.25,163.38 490.00,163.44 489.75,163.50 489.50,163.57 489.25,163.63 489.00,163.69 488.75,163.75 488.50,163.82 488.25,163.88 488.00,163.94 487.75,164.00 487.50,164.07 487.25,164.13 487.00,164.19 486.75,164.25 486.50,164.32 486.25,164.38 486.00,164.44 485.75,164.50 485.50,164.57 485.25,164.63 485.00,164.69 484.75,164.75 484.50,164.82 484.25,164.88 484.00,164.96 483.75,165.03 483.50,165.11 483.25,165.18 483.00,165.26 482.75,165.33 482.50,165.41 482.25,165.48 482.00,165.56 481.75,165.63 481.50,165.71 481.25,165.78 481.00,165.86 480.75,165.93 480.50,166.01 480.25,166.08 480.00,166.16 479.75,166.23 479.50,166.31 479.25,166.38 479.00,166.46 478.75,166.53 478.50,166.61 478.25,166.67 478.00,166.68 477.75,166.69 477.50,166.70 477.25,166.71 477.00,166.72 476.75,166.73 476.50,166.74 476.25,166.75 476.00,166.76 475.75,166.77 475.50,166.78 475.25,166.78 475.00,166.79 474.75,166.80 474.50,166.81 474.25,166.82 474.00,166.83 473.75,166.84 473.50,166.85 473.25,166.86 473.00,166.87 472.75,166.88 472.50,166.89 472.25,166.90 472.00,166.91 471.75,166.92 471.50,166.93 471.25,166.94 471.00,166.95 470.75,166.96 470.50,166.97 470.25,166.98 470.00,166.99 469.75,167.00 469.50,167.01 469.25,167.02 469.00,167.03 468.75,167.03 468.50,167.04 468.25,167.05 468.00,167.06 467.75,167.07 467.50,167.08 467.25,167.09 467.00,167.10 466.75,167.11 466.50,167.12 466.25,167.13 466.00,167.14 465.75,167.15 465.50,167.16 465.25,167.17 465.00,167.18 464.75,167.19 464.50,167.20 464.25,167.21 464.00,167.22 463.75,167.23 463.50,167.24 463.25,167.25 463.00,167.26 462.75,167.27 462.50,167.28 462.25,167.31 462.00,167.33 461.75,167.36 461.50,167.38 461.25,167.41 461.00,167.43 460.75,167.46 460.50,167.48 460.25,167.51 460.00,167.53 459.75,167.56 459.50,167.58 459.25,167.61 459.00,167.63 458.75,167.66 458.50,167.68 458.25,167.71 458.00,167.73 457.75,167.76 457.50,167.78 457.25,167.81 457.00,167.83 456.75,167.86 456.50,167.88 456.25,167.91 456.00,167.93 455.75,167.96 455.50,167.98 455.25,168.01 455.00,168.03 454.75,168.06 454.50,168.08 454.25,168.11 454.00,168.13 453.75,168.16 453.50,168.18 453.25,168.21 453.00,168.23 452.75,168.26 452.50,168.28 452.25,168.31 452.00,168.33 451.75,168.36 451.50,168.38 451.25,168.41 451.00,168.43 450.75,168.46 450.50,168.48 450.25,168.51 450.00,168.53 449.75,168.56 449.50,168.58 449.25,168.61 449.00,168.63 448.75,168.66 448.50,168.68 448.25,168.71 448.00,168.73 447.75,168.76 447.50,168.78 447.25,168.81 447.00,168.83 446.75,168.86 446.50,168.88 446.25,168.91 446.00,168.93 445.75,168.96 445.50,168.98 445.25,169.01 445.00,169.03 444.75,169.06 444.50,169.08 444.25,169.06 444.00,169.05 443.75,169.03 443.50,169.02 443.25,169.01 443.00,168.99 442.75,168.98 442.50,168.97 442.25,168.95 442.00,168.94 441.75,168.92 441.50,168.91 441.25,168.90 441.00,168.88 440.75,168.87 440.50,168.85 440.25,168.84 440.00,168.83 439.75,168.81 439.50,168.80 439.25,168.78 439.00,168.77 438.75,168.76 438.50,168.74 438.25,168.73 438.00,168.72 437.75,168.70 437.50,168.69 437.25,168.67 437.00,168.66 436.75,168.65 436.50,168.63 436.25,168.62 436.00,168.60 435.75,168.59 435.50,168.58 435.25,168.56 435.00,168.55 434.75,168.53 434.50,168.52 434.25,168.51 434.00,168.49 433.75,168.48 433.50,168.46 433.25,168.43 433.00,168.41 432.75,168.38 432.50,168.36 432.25,168.33 432.00,168.31 431.75,168.28 431.50,168.26 431.25,168.23 431.00,168.21 430.75,168.18 430.50,168.16 430.25,168.13 430.00,168.11 429.75,168.08 429.50,168.06 429.25,168.03 429.00,168.01 428.75,167.98 428.50,167.96 428.25,167.93 428.00,167.91 427.75,167.88 427.50,167.86 427.25,167.83 427.00,167.81 426.75,167.78 426.50,167.76 426.25,167.73 426.00,167.71 425.75,167.68 425.50,167.66 425.25,167.63 425.00,167.61 424.75,167.58 424.50,167.56 424.25,167.53 424.00,167.51 423.75,167.48 423.50,167.46 423.25,167.43 423.00,167.41 422.75,167.38 422.50,167.36 422.25,167.33 422.00,167.31 421.75,167.28 421.50,167.26 421.25,167.24 421.00,167.22 420.75,167.20 420.50,167.18 420.25,167.16 420.00,167.13 419.75,167.11 419.50,167.09 419.25,167.07 419.00,167.05 418.75,167.03 418.50,167.01 418.25,166.99 418.00,166.97 417.75,166.95 417.50,166.93 417.25,166.91 417.00,166.88 416.75,166.86 416.50,166.84 416.25,166.82 416.00,166.80 415.75,166.78 415.50,166.76 415.25,166.74 415.00,166.72 414.75,166.70 414.50,166.68 414.25,166.67 414.00,166.67 413.75,166.67 413.50,166.67 413.25,166.67 413.00,166.67 412.75,166.67 412.50,166.67 412.25,166.67 412.00,166.67 411.75,166.67 411.50,166.67 411.25,166.67 411.00,166.67 410.75,166.67 410.50,166.67 410.25,166.67 410.00,166.67 409.75,166.67 409.50,166.67 409.25,166.67 409.00,166.67 408.75,166.67 408.50,166.67 408.25,166.67 408.00,166.67 407.75,166.67 407.50,166.67 407.25,166.67 407.00,166.67 406.75,166.67 406.50,166.67 406.25,166.67 406.00,166.67 405.75,166.67 405.50,166.67 405.25,166.67 405.00,166.67 404.75,166.67 404.50,166.67 404.25,166.67 404.00,166.67 403.75,166.67 403.50,166.67 403.25,166.67 403.00,166.67 402.75,166.67 402.50,166.67 402.25,166.66 402.00,166.62 401.75,166.59 401.50,166.56 401.25,166.53 401.00,166.50 400.75,166.47 400.50,166.44 400.25,166.41 400.00,166.37 399.75,166.34 399.50,166.31 399.25,166.28 399.00,166.25 398.75,166.22 398.50,166.19 398.25,166.16 398.00,166.12 397.75,166.09 397.50,166.06 397.25,166.03 397.00,166.00 396.75,165.97 396.50,165.94 396.25,165.91 396.00,165.87 395.75,165.84 395.50,165.81 395.25,165.78 395.00,165.75 394.75,165.72 394.50,165.69 394.25,165.66 394.00,165.62 393.75,165.59 393.50,165.56 393.25,165.53 393.00,165.50 392.75,165.47 392.50,165.46 392.25,165.46 392.00,165.46 391.75,165.46 391.50,165.46 391.25,165.46 391.00,165.46 390.75,165.46 390.50,165.46 390.25,165.46 390.00,165.46 389.75,165.46 389.50,165.46 389.25,165.46 389.00,165.46 388.75,165.46 388.50,165.46 388.25,165.46 388.00,165.46 387.75,165.46 387.50,165.46 387.25,165.46 387.00,165.46 386.75,165.46 386.50,165.46 386.25,165.46 386.00,165.46 385.75,165.46 385.50,165.46 385.25,165.46 385.00,165.46 384.75,165.46 384.50,165.46 384.25,165.46 384.00,165.46 383.75,165.46 383.50,165.46 383.25,165.46 383.00,165.46 382.75,165.46 382.50,165.46 382.25,165.46 382.00,165.46 381.75,165.46 381.50,165.46 381.25,165.46 381.00,165.46 380.75,165.46 380.50,165.46 380.25,165.46 380.00,165.46 379.75,165.46 379.50,165.46 379.25,165.46 379.00,165.46 378.75,165.46 378.50,165.46 378.25,165.46 378.00,165.46 377.75,165.46 377.50,165.46 377.25,165.46 377.00,165.46 376.75,165.46 376.50,165.46 376.25,165.46 376.00,165.46 375.75,165.46 375.50,165.46 375.25,165.46 375.00,165.46 374.75,165.46 374.50,165.44 374.25,165.40 374.00,165.36 373.75,165.32 373.50,165.28 373.25,165.24 373.00,165.19 372.75,165.15 372.50,165.11 372.25,165.07 372.00,165.03 371.75,164.99 371.50,164.94 371.25,164.90 371.00,164.86 370.75,164.84 370.50,164.83 370.25,164.81 370.00,164.80 369.75,164.78 369.50,164.77 369.25,164.75 369.00,164.73 368.75,164.72 368.50,164.70 368.25,164.69 368.00,164.67 367.75,164.66 367.50,164.64 367.25,164.62 367.00,164.61 366.75,164.59 366.50,164.58 366.25,164.56 366.00,164.55 365.75,164.53 365.50,164.52 365.25,164.50 365.00,164.48 364.75,164.47 364.50,164.45 364.25,164.44 364.00,164.42 363.75,164.41 363.50,164.39 363.25,164.37 363.00,164.36 362.75,164.34 362.50,164.33 362.25,164.31 362.00,164.30 361.75,164.28 361.50,164.27 361.25,164.38 361.00,164.69 360.75,165.00 360.50,165.32 360.25,165.63 360.00,165.94 359.75,166.25 359.50,166.57 359.25,166.88 359.00,167.19 358.75,167.21 358.50,167.12 358.25,167.04 358.00,166.96 357.75,166.87 357.50,166.79 357.25,166.71 357.00,166.62 356.75,166.54 356.50,166.46 356.25,166.37 356.00,166.29 355.75,166.21 355.50,166.12 355.25,165.72 355.00,164.47 354.75,163.22 354.50,161.97 354.25,160.72 354.00,160.09 353.75,160.22 353.50,160.34 353.25,160.47 353.00,160.59 352.75,160.72 352.50,160.84 352.25,160.97 352.00,161.09 351.75,161.22 351.50,161.34 351.25,161.47 351.00,161.59 350.75,161.72 350.50,161.84 350.25,161.93 350.00,162.01 349.75,162.09 349.50,162.18 349.25,162.26 349.00,162.34 348.75,162.43 348.50,162.51 348.25,162.59 348.00,162.68 347.75,162.76 347.50,162.84 347.25,162.93 347.00,163.01 346.75,163.09 346.50,163.18 346.25,163.26 346.00,163.34 345.75,163.43 345.50,163.51 345.25,163.59 345.00,163.68 344.75,163.76 344.50,163.84 344.25,163.93 344.00,164.01 343.75,164.09 343.50,164.18 343.25,164.31 343.00,165.31 342.75,166.31 342.50,167.31 342.25,168.31 342.00,169.08 341.75,169.10 341.50,169.13 341.25,169.15 341.00,169.17 340.75,169.19 340.50,169.21 340.25,169.23 340.00,169.25 339.75,169.27 339.50,169.29 339.25,169.31 339.00,169.33 338.75,169.35 338.50,169.38 338.25,169.40 338.00,169.42 337.75,169.44 337.50,169.46 337.25,169.48 337.00,169.50 336.75,169.52 336.50,169.54 336.25,169.56 336.00,169.58 335.75,169.60 335.50,169.63 335.25,169.65 335.00,169.67 334.75,169.69 334.50,169.72 334.25,169.75 334.00,169.78 333.75,169.82 333.50,169.85 333.25,169.88 333.00,169.91 332.75,169.48 332.50,169.56 332.25,169.64 332.00,169.73 331.75,169.81 331.50,169.89 331.25,169.79 331.00,169.54 330.75,169.29 330.50,169.04 330.25,168.79 330.00,168.54 329.75,168.29 329.50,168.04 329.25,167.79 329.00,167.54 328.75,167.43 328.50,167.33 328.25,167.23 328.00,167.13 327.75,167.03 327.50,166.93 327.25,166.83 327.00,166.73 326.75,166.63 326.50,166.53 326.25,166.43 326.00,166.33 325.75,166.23 325.50,166.13 325.25,166.03 325.00,165.93 324.75,165.83 324.50,165.73 324.25,165.63 324.00,165.53 323.75,165.43 323.50,165.33 323.25,165.23 323.00,165.13 322.75,165.45 322.50,165.89 322.25,166.32 322.00,166.76 321.75,167.20 321.50,167.64 321.25,168.07 321.00,168.51 320.75,168.95 320.50,169.33 320.25,169.37 320.00,169.42 319.75,169.46 319.50,169.50 319.25,169.54 319.00,169.58 318.75,169.62 318.50,169.67 318.25,169.71 318.00,169.75 317.75,169.79 317.50,169.83 317.25,169.87 317.00,169.92 316.75,169.60 316.50,169.10 316.25,168.60 316.00,168.10 315.75,167.60 315.50,167.10 315.25,166.60 315.00,166.10 314.75,165.60 314.50,165.11 314.25,165.04 314.00,164.98 313.75,164.92 313.50,164.86 313.25,164.79 313.00,164.73 312.75,164.67 312.50,164.61 312.25,164.54 312.00,164.48 311.75,164.42 311.50,164.36 311.25,164.29 311.00,164.23 310.75,164.17 310.50,164.11 310.25,164.04 310.00,163.98 309.75,163.92 309.50,163.72 309.25,163.47 309.00,163.22 308.75,162.97 308.50,162.72 308.25,162.47 308.00,162.22 307.75,161.97 307.50,161.72 307.25,161.47 307.00,161.22 306.75,160.97 306.50,160.72 306.25,160.47 306.00,160.31 305.75,160.40 305.50,160.50 305.25,160.59 305.00,160.68 304.75,160.78 304.50,160.87 304.25,160.97 304.00,161.06 303.75,161.15 303.50,161.25 303.25,161.34 303.00,161.43 302.75,161.53 302.50,161.62 302.25,161.72 302.00,161.81 301.75,161.90 301.50,162.00 301.25,162.09 301.00,161.89 300.75,161.68 300.50,161.47 300.25,161.27 300.00,161.06 299.75,160.85 299.50,160.64 299.25,160.43 299.00,160.22 298.75,160.02 298.50,159.81 298.25,159.60 298.00,159.39 297.75,159.18 297.50,158.51 297.25,157.39 297.00,156.26 296.75,155.14 296.50,154.01 296.25,152.89 296.00,151.76 295.75,150.64 295.50,149.51 295.25,148.39 295.00,148.31 294.75,148.40 294.50,148.50 294.25,148.59 294.00,148.68 293.75,148.78 293.50,148.87 293.25,148.96 293.00,149.06 292.75,149.15 292.50,149.25 292.25,149.34 292.00,149.43 291.75,149.53 291.50,149.62 291.25,149.71 291.00,149.81 290.75,149.90 290.50,150.00 290.25,149.92 290.00,149.71 289.75,149.50 289.50,149.29 289.25,149.08 289.00,148.88 288.75,148.67 288.50,148.46 288.25,148.25 288.00,148.04 287.75,147.83 287.50,147.63 287.25,147.42 287.00,147.21 286.75,146.87 286.50,145.37 286.25,143.87 286.00,142.37 285.75,140.87 285.50,139.78 285.25,139.76 285.00,139.73 284.75,139.71 284.50,139.68 284.25,139.66 284.00,139.63 283.75,139.61 283.50,139.58 283.25,139.56 283.00,139.53 282.75,139.51 282.50,139.48 282.25,139.46 282.00,139.43 281.75,139.41 281.50,139.38 281.25,139.36 281.00,139.33 280.75,139.31 280.50,139.28 280.25,139.26 280.00,139.23 279.75,139.21 279.50,139.19 279.25,139.21 279.00,139.24 278.75,139.26 278.50,139.29 278.25,139.31 278.00,139.34 277.75,139.36 277.50,139.39 277.25,139.41 277.00,139.44 276.75,139.46 276.50,139.49 276.25,139.51 276.00,139.54 275.75,139.56 275.50,139.59 275.25,139.61 275.00,139.64 274.75,139.66 274.50,139.69 274.25,139.71 274.00,139.74 273.75,139.76 273.50,139.80 273.25,139.96 273.00,140.13 272.75,140.30 272.50,140.46 272.25,140.63 272.00,140.80 271.75,140.96 271.50,141.13 271.25,141.30 271.00,141.46 270.75,141.63 270.50,141.80 270.25,141.96 270.00,142.13 269.75,142.47 269.50,142.92 269.25,143.38 269.00,143.84 268.75,144.30 268.50,144.76 268.25,145.22 268.00,145.67 267.75,146.13 267.50,146.59 267.25,147.05 267.00,147.51 266.75,147.97 266.50,148.42 266.25,148.83 266.00,148.83 265.75,148.83 265.50,148.83 265.25,148.83 265.00,148.83 264.75,148.83 264.50,148.83 264.25,148.83 264.00,148.83 263.75,148.83 263.50,148.83 263.25,148.83 263.00,148.83 262.75,148.83 262.50,148.83 262.25,148.83 262.00,148.83 261.75,148.83 261.50,148.83 261.25,148.83 261.00,148.83 260.75,148.83 260.50,148.83 260.25,148.83 260.00,148.83 259.75,148.83 259.50,148.83 259.25,148.83 259.00,148.83 258.75,148.83 258.50,148.83 258.25,148.83 258.00,148.83 257.75,148.61 257.50,147.98 257.25,147.36 257.00,146.73 256.75,146.11 256.50,145.48 256.25,144.86 256.00,144.23 255.75,143.61 255.50,142.98 255.25,142.71 255.00,142.59 254.75,142.46 254.50,142.34 254.25,142.21 254.00,142.09 253.75,141.96 253.50,141.84 253.25,141.71 253.00,141.59 252.75,141.46 252.50,141.34 252.25,141.21 252.00,141.09 251.75,140.96 251.50,140.84 251.25,140.71 251.00,140.59 250.75,140.46 250.50,140.34 250.25,140.21 250.00,140.09 249.75,139.96 249.50,139.84 249.25,139.71 249.00,139.59 248.75,139.46 248.50,139.34 248.25,139.21 248.00,139.09 247.75,138.96 247.50,138.84 247.25,138.71 247.00,138.59 246.75,138.46 246.50,138.34 246.25,138.21 246.00,138.09 245.75,137.96 245.50,137.84 245.25,137.71 245.00,137.59 244.75,137.46 244.50,137.36 244.25,137.32 244.00,137.28 243.75,137.24 243.50,137.20 243.25,137.16 243.00,137.11 242.75,137.07 242.50,137.03 242.25,136.99 242.00,136.95 241.75,136.91 241.50,136.86 241.25,136.82 241.00,136.78 240.75,136.74 240.50,136.70 240.25,136.66 240.00,136.61 239.75,136.57 239.50,136.53 239.25,136.49 239.00,136.45 238.75,136.41 238.50,136.36 238.25,136.32 238.00,136.28 237.75,136.24 237.50,136.20 237.25,136.25 237.00,136.46 236.75,136.66 236.50,136.87 236.25,137.08 236.00,137.29 235.75,137.50 235.50,137.71 235.25,137.91 235.00,138.12 234.75,138.33 234.50,138.54 234.25,138.75 234.00,138.96 233.75,139.16 233.50,139.37 233.25,139.58 233.00,139.79 232.75,140.00 232.50,140.21 232.25,140.41 232.00,140.62 231.75,140.83 231.50,141.04 231.25,141.25 231.00,141.46 230.75,141.66 230.50,141.87 230.25,142.08 230.00,142.24 229.75,142.33 229.50,142.43 229.25,142.52 229.00,142.61 228.75,142.71 228.50,142.80 228.25,142.90 228.00,142.99 227.75,143.08 227.50,143.18 227.25,143.27 227.00,143.36 226.75,143.46 226.50,143.55 226.25,143.65 226.00,143.74 225.75,143.83 225.50,143.93 225.25,144.02 225.00,144.11 224.75,144.21 224.50,144.30 224.25,144.40 224.00,144.49 223.75,144.58 223.50,144.68 223.25,144.77 223.00,144.86 222.75,144.96 222.50,145.05 222.25,145.15 222.00,145.24 221.75,145.33 221.50,145.43 221.25,145.52 221.00,145.61 220.75,145.71 220.50,145.80 220.25,145.82 220.00,145.82 219.75,145.82 219.50,145.82 219.25,145.82 219.00,145.82 218.75,145.82 218.50,145.82 218.25,145.82 218.00,145.82 217.75,145.82 217.50,145.82 217.25,145.82 217.00,145.82 216.75,145.82 216.50,145.82 216.25,145.82 216.00,145.82 215.75,145.82 215.50,145.82 215.25,145.82 215.00,145.82 214.75,145.82 214.50,145.82 214.25,145.86 214.00,145.92 213.75,145.99 213.50,146.05 213.25,146.11 213.00,146.17 212.75,146.24 212.50,146.30 212.25,146.36 212.00,146.42 211.75,146.49 211.50,146.55 211.25,146.61 211.00,146.67 210.75,146.74 210.50,146.80 210.25,146.86 210.00,146.92 209.75,146.99 209.50,147.00 209.25,146.94 209.00,146.89 208.75,146.84 208.50,146.78 208.25,146.73 208.00,146.68 207.75,146.62 207.50,146.57 207.25,146.52 207.00,146.46 206.75,146.41 206.50,146.36 206.25,146.30 206.00,146.25 205.75,146.19 205.50,146.14 205.25,146.09 205.00,146.03 204.75,145.98 204.50,145.93 204.25,145.87 204.00,145.82 203.75,145.77 203.50,145.71 203.25,145.66 203.00,145.61 202.75,145.55 202.50,145.50 202.25,145.44 202.00,145.39 201.75,145.34 201.50,145.28 201.25,145.23 201.00,144.70 200.75,143.95 200.50,143.20 200.25,142.45 200.00,141.70 199.75,141.57 199.50,141.55 199.25,141.52 199.00,141.50 198.75,141.47 198.50,141.45 198.25,141.42 198.00,141.40 197.75,141.37 197.50,141.35 197.25,141.32 197.00,141.30 196.75,141.27 196.50,141.25 196.25,141.22 196.00,141.20 195.75,141.17 195.50,141.15 195.25,141.12 195.00,141.10 194.75,141.07 194.50,141.05 194.25,141.02 194.00,141.00 193.75,141.02 193.50,141.06 193.25,141.10 193.00,141.14 192.75,141.18 192.50,141.21 192.25,141.25 192.00,141.29 191.75,141.33 191.50,141.37 191.25,141.41 191.00,141.45 190.75,141.48 190.50,141.52 190.25,141.56 190.00,141.60 189.75,141.64 189.50,141.68 189.25,141.71 189.00,141.75 188.75,141.79 188.50,141.83 188.25,141.87 188.00,141.91 187.75,141.95 187.50,141.98 187.25,142.02 187.00,142.06 186.75,142.10 186.50,142.14 186.25,142.18 186.00,142.08 185.75,141.78 185.50,141.48 185.25,141.18 185.00,140.88 184.75,140.58 184.50,140.28 184.25,139.98 184.00,139.68 183.75,139.38 183.50,139.08 183.25,138.78 183.00,138.57 182.75,138.52 182.50,138.47 182.25,138.42 182.00,138.37 181.75,138.32 181.50,138.27 181.25,138.22 181.00,138.17 180.75,138.12 180.50,138.07 180.25,138.02 180.00,137.97 179.75,137.92 179.50,137.87 179.25,137.82 179.00,137.77 178.75,137.72 178.50,137.67 178.25,137.62 178.00,137.57 177.75,137.52 177.50,137.47 177.25,137.42 177.00,137.36 176.75,137.26 176.50,137.17 176.25,137.08 176.00,136.99 175.75,136.90 175.50,136.81 175.25,136.72 175.00,136.63 174.75,136.54 174.50,136.45 174.25,136.36 174.00,136.26 173.75,136.17 173.50,136.08 173.25,135.99 173.00,135.90 172.75,135.81 172.50,135.72 172.25,135.63 172.00,135.54 171.75,135.45 171.50,135.36 171.25,135.26 171.00,135.17 170.75,135.08 170.50,134.99 170.25,134.97 170.00,134.97" fill="#000080"/>
<polyline points="1105.3,113.7 1110.6,111.6 1121.3,111.6 1129.8,115.9 1134.6,121.5 1143.9,132.4 1151.6,147.8 1157.8,163.2 1161.7,181.8 1164.0,200.3 1166.3,218.8 1169.4,240.5 1173.2,262.1 1175.5,277.5 1178.5,283.5 1181.4,285.3 1184.0,283.5 1186.5,279.5 1190.2,271.4 1194.9,255.9 1197.6,251.5 1200.1,241.2 1204.3,237.1 1208.9,232.4 1210.4,224.7 1213.0,217.5 1215.8,216.2 1220.7,220.6 1224.9,225.7 1228.0,231.9 1231.0,240.2 1235.0,245.5 1239.3,236.0 1240.3,225.7 1241.3,215.4 1242.4,205.1 1244.1,191.2 1245.7,180.9 1250.3,177.4 1254.4,183.0 1257.5,189.3 1262.7,185.0 1266.8,178.8 1268.3,171.6 1270.4,165.4 1276.0,162.9 1281.2,165.4 1285.3,171.6 1287.4,180.9 1289.4,188.6 1293.4,195.0 1297.0,204.0 1301.2,213.0 1303.0,222.0 1304.8,234.1 1306.6,246.1 1308.0,257.0" fill="none" stroke="#000080" stroke-width="8.2" stroke-linejoin="round" stroke-linecap="round"/>
<polygon points="1304.3,255.0 1304.9,267.0 1306.0,285.0 1307.4,292.0 1309.1,297.6 1309.4,304.5 1312.2,308.6 1315.6,313.4 1317.3,320.2 1318.3,323.7 1319.2,345.4 1324.0,348.4 1324.6,361.7 1325.8,378.5 1331.8,382.1 1333.6,384.5 1334.2,403.7 1338.4,404.9 1339.0,427.7 1342.7,432.6 1343.9,443.4 1349.3,443.4 1351.7,440.4 1351.7,320.8 1352.9,320.2 1352.9,306.0 1345.3,306.0 1345.3,319.2 1343.8,319.4 1343.1,334.0 1340.3,332.6 1340.3,325.0 1338.3,322.6 1334.8,322.6 1332.1,324.4 1330.7,327.1 1327.3,325.7 1325.6,321.0 1325.6,320.2 1324.5,313.4 1323.8,308.6 1323.5,304.5 1323.2,297.6 1315.6,291.4 1314.9,285.2 1314.5,267.4 1311.8,255.0" fill="#000080"/>
<rect x="1345.3" y="53" width="7.8" height="270" fill="#000080"/>
<rect x="1345.3" y="131.5" width="15" height="26" fill="#000080"/>
<rect x="1353" y="53" width="7.2" height="80" fill="#000080"/>
<polyline points="170.2,57.4 205.0,57.5 250.0,57.8 266.0,58.4 280.0,59.4 300.0,61.5 330.0,66.5 364.0,71.0 398.0,73.9 425.0,76.5 440.0,77.0 587.0,77.0 601.0,78.5 640.0,78.7 691.0,78.7 700.0,80.1 720.0,80.5 725.0,81.3 759.0,81.3 770.0,79.6 780.0,79.3 793.0,77.0 803.4,80.4 817.0,83.0 827.0,81.8 839.0,77.9 851.0,80.1 866.4,83.0 880.0,85.2 887.0,86.2 904.0,88.4 921.0,89.6 941.5,90.8 955.0,92.1 965.3,96.9 972.1,99.3 982.3,98.3 989.0,97.6 1006.0,97.8" fill="none" stroke="#00ff00" stroke-width="7.0" stroke-linejoin="round" stroke-linecap="butt"/>
<polyline points="989.0,97.6 1006.0,97.8 1023.0,97.6 1040.0,97.8 1057.0,98.5 1074.0,97.6 1100.0,97.4 1129.8,97.4 1140.4,98.8 1144.4,100.2 1153.2,102.6 1160.6,105.5 1164.9,110.5 1169.1,120.1 1174.5,128.6 1180.3,134.5 1185.1,132.9 1193.6,126.5 1201.1,123.3 1211.7,120.1 1222.3,117.4 1235.1,115.3 1239.4,109.5 1240.0,106.8 1243.4,93.1 1247.6,86.2 1253.7,81.4 1260.6,75.2 1266.1,65.6 1270.9,58.7 1276.4,54.6 1281.2,52.6 1284.6,53.0 1293.6,56.0 1300.4,57.4 1305.2,64.2 1308.7,72.5 1312.1,86.2 1315.3,99.9 1318.0,108.0 1320.0,115.0 1321.5,122.0" fill="none" stroke="#00ff00" stroke-width="6.2" stroke-linejoin="round" stroke-linecap="butt"/>
<polygon points="1320.0,98.5 1324.1,106.8 1326.2,117.1 1327.2,121.2 1329.3,110.9 1331.3,108.8 1334.4,109.4 1336.5,113.0 1337.0,117.1 1340.6,119.1 1345.2,117.1 1345.2,96.5 1347.8,96.5 1347.8,52.7 1358.3,52.7 1358.3,130.5 1354.0,135.6 1353.5,144.4 1346.8,144.4 1345.2,135.6 1344.7,153.1 1340.6,155.7 1336.5,153.1 1335.4,135.6 1330.3,135.6 1324.1,131.5 1321.0,127.4 1319.0,123.3 1318.5,106.8" fill="#00ff00"/>
</g>
<g transform="translate(138.20,1020.80) scale(1.0,1.04)"><text x="-22.80" y="0" font-size="41">0</text></g><g transform="translate(138.20,829.40) scale(1.0,1.04)"><text x="-45.60" y="0" font-size="41">20</text></g><g transform="translate(138.20,638.00) scale(1.0,1.04)"><text x="-45.60" y="0" font-size="41">40</text></g><g transform="translate(138.20,446.60) scale(1.0,1.04)"><text x="-45.60" y="0" font-size="41">60</text></g><g transform="translate(138.20,255.20) scale(1.0,1.04)"><text x="-45.60" y="0" font-size="41">80</text></g><g transform="translate(138.20,63.80) scale(1.0,1.04)"><text x="-68.41" y="0" font-size="41"> 00</text><path transform="translate(-68.41,0) scale(0.02002,-0.01925)" d="M763 0L583 0L583 1147Q518 1085 415.5 1024Q313 963 223 930L223 1104Q385 1180 491.5 1275.5Q598 1371 646 1472L763 1472Z"/></g>
<g transform="translate(1359.30,1071.20) scale(1.0,1.04)"><text x="-34.20" y="0" font-size="41">500</text></g><g transform="translate(1189.30,1071.20) scale(1.0,1.04)"><text x="-51.30" y="0" font-size="41"> ,000</text><path transform="translate(-51.30,0) scale(0.02002,-0.01925)" d="M763 0L583 0L583 1147Q518 1085 415.5 1024Q313 963 223 930L223 1104Q385 1180 491.5 1275.5Q598 1371 646 1472L763 1472Z"/></g><g transform="translate(1019.30,1071.20) scale(1.0,1.04)"><text x="-51.30" y="0" font-size="41"> ,500</text><path transform="translate(-51.30,0) scale(0.02002,-0.01925)" d="M763 0L583 0L583 1147Q518 1085 415.5 1024Q313 963 223 930L223 1104Q385 1180 491.5 1275.5Q598 1371 646 1472L763 1472Z"/></g><g transform="translate(849.30,1071.20) scale(1.0,1.04)"><text x="-51.30" y="0" font-size="41">2,000</text></g><g transform="translate(679.30,1071.20) scale(1.0,1.04)"><text x="-51.30" y="0" font-size="41">2,500</text></g><g transform="translate(509.30,1071.20) scale(1.0,1.04)"><text x="-51.30" y="0" font-size="41">3,000</text></g><g transform="translate(339.30,1071.20) scale(1.0,1.04)"><text x="-51.30" y="0" font-size="41">3,500</text></g><g transform="translate(169.30,1071.20) scale(1.0,1.04)"><text x="-51.30" y="0" font-size="41">4,000</text></g>
<g clip-path="url(#xclip)"><g transform="translate(66.30,732.50) rotate(-90) scale(0.99,1.0)"><text x="0.00" y="0" font-size="50">Transmittance (%)</text></g><g transform="translate(481.50,1136.40) scale(1.0,1.0)"><text x="0.00" y="0" font-size="50">Wavenumbers</text></g><g transform="translate(815.50,1136.40) scale(1.0,1.0)"><text x="0.00" y="0" font-size="50">(cm</text></g><g transform="translate(898.50,1115.00) scale(1.0,1.04)"><text x="0.00" y="0" font-size="34">−</text></g><g transform="translate(919.00,1115.00) scale(1.0,1.04)"><text x="0.00" y="0" font-size="34"> </text><path transform="translate(0.00,0) scale(0.01660,-0.01596)" d="M763 0L583 0L583 1147Q518 1085 415.5 1024Q313 963 223 930L223 1104Q385 1180 491.5 1275.5Q598 1371 646 1472L763 1472Z"/></g><g transform="translate(938.00,1136.40) scale(1.0,1.0)"><text x="0.00" y="0" font-size="50">)</text></g></g>
<defs><clipPath id="xclip"><rect x="0" y="0" width="1410" height="1137"/></clipPath></defs>
<!-- legend -->
<rect x="231.5" y="796.5" width="338" height="144.5" fill="#fff" stroke="#000" stroke-width="1.6"/>
<line x1="234" y1="830.5" x2="353" y2="830.5" stroke="#000080" stroke-width="8"/>
<line x1="235" y1="905.5" x2="353" y2="905.5" stroke="#00ff00" stroke-width="6"/>
<g transform="translate(363.00,846.40) scale(0.99,1.04)"><text x="0.00" y="0" font-size="50">H</text></g><g transform="translate(398.00,859.70) scale(1.0,1.0)"><text x="0.00" y="0" font-size="50">phen</text></g><g transform="translate(363.00,921.70) scale(0.99,1.0)"><text x="0.00" y="0" font-size="50">Hematite</text></g>
<!-- annotations -->
<g stroke="#000" stroke-width="2">
<line x1="1179.7" y1="310.8" x2="1179.7" y2="512"/>
<line x1="1235.9" y1="301" x2="1235.9" y2="453"/>
<line x1="1263.7" y1="200.5" x2="1263.7" y2="354"/>
<line x1="1332.9" y1="423" x2="1332.9" y2="624"/>
</g>
<polygon points="1173.1,510.3 1186.3,510.3 1185.9,513.7 1184.7,520.6 1183.0,527.5 1180.8,534.8 1178.6,534.8 1176.4,527.5 1174.7,520.6 1173.5,513.7" fill="#000"/><polygon points="1229.3,451.2 1242.5,451.2 1242.1,454.6 1240.9,461.5 1239.2,468.4 1237.0,475.7 1234.8,475.7 1232.6,468.4 1230.9,461.5 1229.7,454.6" fill="#000"/><polygon points="1257.1,352.6 1270.3,352.6 1269.9,356.0 1268.7,362.9 1267.0,369.8 1264.8,377.1 1262.6,377.1 1260.4,369.8 1258.7,362.9 1257.5,356.0" fill="#000"/><polygon points="1326.3,622.3 1339.5,622.3 1339.1,625.7 1337.9,632.6 1336.2,639.5 1334.0,646.8 1331.8,646.8 1329.6,639.5 1327.9,632.6 1326.7,625.7" fill="#000"/>
<g transform="translate(1095.20,590.80) scale(1.0,1.04)"><text x="0.00" y="0" font-size="41.5" font-weight="bold"> 022</text><path transform="translate(0.00,0) scale(0.02026,-0.01948)" d="M782 0L501 0L501 1059Q347 915 150 847L150 1102Q254 1136 365 1222.5Q476 1309 555 1466L782 1466Z"/></g><g transform="translate(1207.20,521.70) scale(0.97,1.04)"><text x="0.00" y="0" font-size="36.5" font-weight="bold">874</text></g><g transform="translate(1251.50,428.20) scale(1.0,1.04)"><text x="0.00" y="0" font-size="36.5" font-weight="bold">79 </text><path transform="translate(40.60,0) scale(0.01782,-0.01714)" d="M782 0L501 0L501 1059Q347 915 150 847L150 1102Q254 1136 365 1222.5Q476 1309 555 1466L782 1466Z"/></g><g transform="translate(1296.00,693.00) scale(1.0,1.04)"><text x="0.00" y="0" font-size="36.5" font-weight="bold">570</text></g>
</svg>
</body></html>
